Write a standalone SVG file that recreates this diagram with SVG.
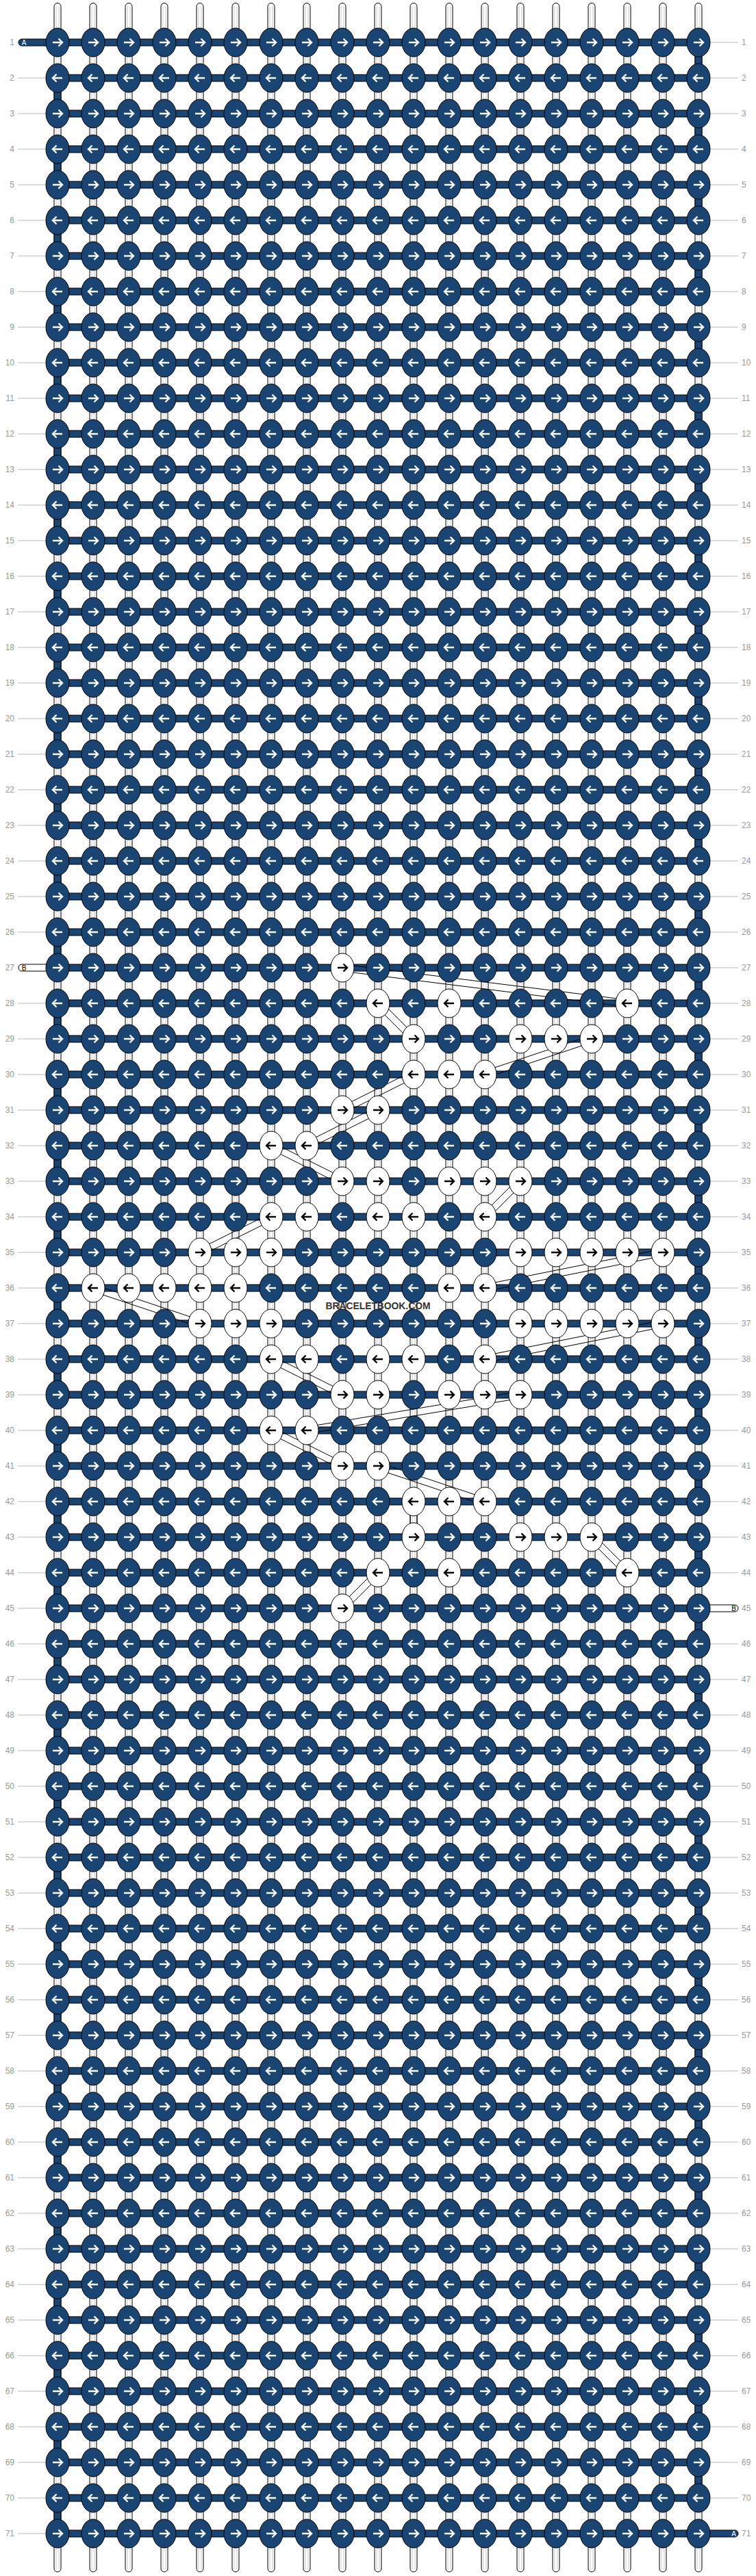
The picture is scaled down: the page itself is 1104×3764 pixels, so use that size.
<svg xmlns="http://www.w3.org/2000/svg" xmlns:xlink="http://www.w3.org/1999/xlink" width="1104" height="3764" viewBox="0 0 1104 3764">
<style>
.kb{fill:#1a4472;stroke:#000;stroke-width:1}
.kw{fill:#fff;stroke:#000;stroke-width:1}
.aw{fill:none;stroke:#fff;stroke-width:2.4}
.ab{fill:none;stroke:#000;stroke-width:2.4}
.tube{fill:#fff;stroke:#000;stroke-width:1}
.tin{fill:none;stroke:#c8c8c8;stroke-width:1}
.band{fill:#1a4472;stroke:#000;stroke-width:1}
.path{fill:none;stroke:#000;stroke-width:1}
.gl{fill:none;stroke:#bbb;stroke-width:1}
.num{font-family:"Liberation Sans",Arial,sans-serif;font-size:12px;fill:#999}
.ln{text-anchor:end}
.tag{font-family:"Liberation Sans",Arial,sans-serif;font-size:10px;text-anchor:middle}
</style>
<defs>
<g id="R"><ellipse rx="17" ry="21" class="kb"/><path d="M-7 0H6.5M1.5-5.5L7 0L1.5 5.5" class="aw"/></g>
<g id="L"><ellipse rx="17" ry="21" class="kb"/><path d="M7 0H-6.5M-1.5-5.5L-7 0L-1.5 5.5" class="aw"/></g>
<g id="r"><ellipse rx="17" ry="21" class="kw"/><path d="M-7 0H6.5M1.5-5.5L7 0L1.5 5.5" class="ab"/></g>
<g id="l"><ellipse rx="17" ry="21" class="kw"/><path d="M7 0H-6.5M-1.5-5.5L-7 0L-1.5 5.5" class="ab"/></g>
</defs>
<rect width="1104" height="3764" fill="#fff"/>
<g id="connectors">
<g id="strings">
<rect class="tube" x="79" y="4.5" width="10" height="3753.5" rx="5"/>
<rect class="tube" x="131" y="4.5" width="10" height="3753.5" rx="5"/>
<rect class="tube" x="183" y="4.5" width="10" height="3753.5" rx="5"/>
<rect class="tube" x="235" y="4.5" width="10" height="3753.5" rx="5"/>
<rect class="tube" x="287" y="4.5" width="10" height="3753.5" rx="5"/>
<rect class="tube" x="339" y="4.5" width="10" height="3753.5" rx="5"/>
<rect class="tube" x="391" y="4.5" width="10" height="3753.5" rx="5"/>
<rect class="tube" x="443" y="4.5" width="10" height="3753.5" rx="5"/>
<rect class="tube" x="495" y="4.5" width="10" height="3753.5" rx="5"/>
<rect class="tube" x="547" y="4.5" width="10" height="3753.5" rx="5"/>
<rect class="tube" x="599" y="4.5" width="10" height="3753.5" rx="5"/>
<rect class="tube" x="651" y="4.5" width="10" height="3753.5" rx="5"/>
<rect class="tube" x="703" y="4.5" width="10" height="3753.5" rx="5"/>
<rect class="tube" x="755" y="4.5" width="10" height="3753.5" rx="5"/>
<rect class="tube" x="807" y="4.5" width="10" height="3753.5" rx="5"/>
<rect class="tube" x="859" y="4.5" width="10" height="3753.5" rx="5"/>
<rect class="tube" x="911" y="4.5" width="10" height="3753.5" rx="5"/>
<rect class="tube" x="963" y="4.5" width="10" height="3753.5" rx="5"/>
<rect class="tube" x="1015" y="4.5" width="10" height="3753.5" rx="5"/>
<path class="tin" d="M82 9V3754M86 9V3754M134 9V3754M138 9V3754M186 9V3754M190 9V3754M238 9V3754M242 9V3754M290 9V3754M294 9V3754M342 9V3754M346 9V3754M394 9V3754M398 9V3754M446 9V3754M450 9V3754M498 9V3754M502 9V3754M550 9V3754M554 9V3754M602 9V3754M606 9V3754M654 9V3754M658 9V3754M706 9V3754M710 9V3754M758 9V3754M762 9V3754M810 9V3754M814 9V3754M862 9V3754M866 9V3754M914 9V3754M918 9V3754M966 9V3754M970 9V3754M1018 9V3754M1022 9V3754"/>
</g>
<g id="threadA">
<rect class="band" x="27" y="57" width="993" height="10" rx="5"/>
<rect class="band" x="84" y="3697" width="994" height="10" rx="5"/>
<path class="band" d="M84 109h936v10h-936zM84 161h936v10h-936zM84 213h936v10h-936zM84 265h936v10h-936zM84 317h936v10h-936zM84 369h936v10h-936zM84 421h936v10h-936zM84 473h936v10h-936zM84 525h936v10h-936zM84 577h936v10h-936zM84 629h936v10h-936zM84 681h936v10h-936zM84 733h936v10h-936zM84 785h936v10h-936zM84 837h936v10h-936zM84 889h936v10h-936zM84 941h936v10h-936zM84 993h936v10h-936zM84 1045h936v10h-936zM84 1097h936v10h-936zM84 1149h936v10h-936zM84 1201h936v10h-936zM84 1253h936v10h-936zM84 1305h936v10h-936zM84 1357h936v10h-936zM84 1409h936v10h-936zM84 1461h936v10h-936zM84 1513h936v10h-936zM84 1565h936v10h-936zM84 1617h936v10h-936zM84 1669h936v10h-936zM84 1721h936v10h-936zM84 1773h936v10h-936zM84 1825h936v10h-936zM84 1877h936v10h-936zM84 1929h936v10h-936zM84 1981h936v10h-936zM84 2033h936v10h-936zM84 2085h936v10h-936zM84 2137h936v10h-936zM84 2189h936v10h-936zM84 2241h936v10h-936zM84 2293h936v10h-936zM84 2345h936v10h-936zM84 2397h936v10h-936zM84 2449h936v10h-936zM84 2501h936v10h-936zM84 2553h936v10h-936zM84 2605h936v10h-936zM84 2657h936v10h-936zM84 2709h936v10h-936zM84 2761h936v10h-936zM84 2813h936v10h-936zM84 2865h936v10h-936zM84 2917h936v10h-936zM84 2969h936v10h-936zM84 3021h936v10h-936zM84 3073h936v10h-936zM84 3125h936v10h-936zM84 3177h936v10h-936zM84 3229h936v10h-936zM84 3281h936v10h-936zM84 3333h936v10h-936zM84 3385h936v10h-936zM84 3437h936v10h-936zM84 3489h936v10h-936zM84 3541h936v10h-936zM84 3593h936v10h-936zM84 3645h936v10h-936z"/>
<path class="band" d="M79 129h10v22h-10zM79 233h10v22h-10zM79 337h10v22h-10zM79 441h10v22h-10zM79 545h10v22h-10zM79 649h10v22h-10zM79 753h10v22h-10zM79 857h10v22h-10zM79 961h10v22h-10zM79 1065h10v22h-10zM79 1169h10v22h-10zM79 1273h10v22h-10zM79 1377h10v22h-10zM79 1481h10v22h-10zM79 1585h10v22h-10zM79 1689h10v22h-10zM79 1793h10v22h-10zM79 1897h10v22h-10zM79 2001h10v22h-10zM79 2105h10v22h-10zM79 2209h10v22h-10zM79 2313h10v22h-10zM79 2417h10v22h-10zM79 2521h10v22h-10zM79 2625h10v22h-10zM79 2729h10v22h-10zM79 2833h10v22h-10zM79 2937h10v22h-10zM79 3041h10v22h-10zM79 3145h10v22h-10zM79 3249h10v22h-10zM79 3353h10v22h-10zM79 3457h10v22h-10zM79 3561h10v22h-10zM79 3665h10v22h-10z"/>
<path class="band" d="M1015 77h10v22h-10zM1015 181h10v22h-10zM1015 285h10v22h-10zM1015 389h10v22h-10zM1015 493h10v22h-10zM1015 597h10v22h-10zM1015 701h10v22h-10zM1015 805h10v22h-10zM1015 909h10v22h-10zM1015 1013h10v22h-10zM1015 1117h10v22h-10zM1015 1221h10v22h-10zM1015 1325h10v22h-10zM1015 1429h10v22h-10zM1015 1533h10v22h-10zM1015 1637h10v22h-10zM1015 1741h10v22h-10zM1015 1845h10v22h-10zM1015 1949h10v22h-10zM1015 2053h10v22h-10zM1015 2157h10v22h-10zM1015 2261h10v22h-10zM1015 2365h10v22h-10zM1015 2469h10v22h-10zM1015 2573h10v22h-10zM1015 2677h10v22h-10zM1015 2781h10v22h-10zM1015 2885h10v22h-10zM1015 2989h10v22h-10zM1015 3093h10v22h-10zM1015 3197h10v22h-10zM1015 3301h10v22h-10zM1015 3405h10v22h-10zM1015 3509h10v22h-10zM1015 3613h10v22h-10z"/>
</g>
<g id="threadB">
<rect class="tube" x="27" y="1409" width="60" height="10" rx="5"/>
<rect class="tube" x="1017" y="2345" width="61" height="10" rx="5"/>
<path class="path" d="M499.4 1419L915.4 1471M500.6 1409L916.6 1461
M548.5 1469.5L600.5 1521.5M555.5 1462.5L607.5 1514.5
M862.4 1513.3L706.4 1565.3M865.6 1522.7L709.6 1574.7
M601.8 1565.5L497.8 1617.5M606.2 1574.5L502.2 1626.5
M549.8 1617.5L445.8 1669.5M554.2 1626.5L450.2 1678.5
M393.8 1678.5L497.8 1730.5M398.2 1669.5L502.2 1721.5
M756.5 1722.5L704.5 1774.5M763.5 1729.5L711.5 1781.5
M393.8 1773.5L289.8 1825.5M398.2 1782.5L294.2 1834.5
M967 1825.1L707 1877.1M969 1834.9L709 1886.9
M134.4 1886.7L290.4 1938.7M137.6 1877.3L293.6 1929.3
M967 1929.1L707 1981.1M969 1938.9L709 1990.9
M393.8 1990.5L497.8 2042.5M398.2 1981.5L502.2 2033.5
M759.2 2033.1L447.2 2085.1M760.8 2042.9L448.8 2094.9
M393.8 2094.5L497.8 2146.5M398.2 2085.5L502.2 2137.5
M550.4 2146.7L706.4 2198.7M553.6 2137.3L709.6 2189.3
M599 2194V2246M609 2194V2246
M860.5 2249.5L912.5 2301.5M867.5 2242.5L919.5 2294.5
M548.5 2294.5L496.5 2346.5M555.5 2301.5L503.5 2353.5"/>
</g>
</g>
<g id="nodes">
<g id="r1" transform="translate(0 62)"><g id="k1-1"><use href="#R" x="84"/></g><g id="k1-2"><use href="#R" x="136"/></g><g id="k1-3"><use href="#R" x="188"/></g><g id="k1-4"><use href="#R" x="240"/></g><g id="k1-5"><use href="#R" x="292"/></g><g id="k1-6"><use href="#R" x="344"/></g><g id="k1-7"><use href="#R" x="396"/></g><g id="k1-8"><use href="#R" x="448"/></g><g id="k1-9"><use href="#R" x="500"/></g><g id="k1-10"><use href="#R" x="552"/></g><g id="k1-11"><use href="#R" x="604"/></g><g id="k1-12"><use href="#R" x="656"/></g><g id="k1-13"><use href="#R" x="708"/></g><g id="k1-14"><use href="#R" x="760"/></g><g id="k1-15"><use href="#R" x="812"/></g><g id="k1-16"><use href="#R" x="864"/></g><g id="k1-17"><use href="#R" x="916"/></g><g id="k1-18"><use href="#R" x="968"/></g><g id="k1-19"><use href="#R" x="1020"/></g></g>
<g id="r2" transform="translate(0 114)"><g id="k2-1"><use href="#L" x="84"/></g><g id="k2-2"><use href="#L" x="136"/></g><g id="k2-3"><use href="#L" x="188"/></g><g id="k2-4"><use href="#L" x="240"/></g><g id="k2-5"><use href="#L" x="292"/></g><g id="k2-6"><use href="#L" x="344"/></g><g id="k2-7"><use href="#L" x="396"/></g><g id="k2-8"><use href="#L" x="448"/></g><g id="k2-9"><use href="#L" x="500"/></g><g id="k2-10"><use href="#L" x="552"/></g><g id="k2-11"><use href="#L" x="604"/></g><g id="k2-12"><use href="#L" x="656"/></g><g id="k2-13"><use href="#L" x="708"/></g><g id="k2-14"><use href="#L" x="760"/></g><g id="k2-15"><use href="#L" x="812"/></g><g id="k2-16"><use href="#L" x="864"/></g><g id="k2-17"><use href="#L" x="916"/></g><g id="k2-18"><use href="#L" x="968"/></g><g id="k2-19"><use href="#L" x="1020"/></g></g>
<g id="r3" transform="translate(0 166)"><g id="k3-1"><use href="#R" x="84"/></g><g id="k3-2"><use href="#R" x="136"/></g><g id="k3-3"><use href="#R" x="188"/></g><g id="k3-4"><use href="#R" x="240"/></g><g id="k3-5"><use href="#R" x="292"/></g><g id="k3-6"><use href="#R" x="344"/></g><g id="k3-7"><use href="#R" x="396"/></g><g id="k3-8"><use href="#R" x="448"/></g><g id="k3-9"><use href="#R" x="500"/></g><g id="k3-10"><use href="#R" x="552"/></g><g id="k3-11"><use href="#R" x="604"/></g><g id="k3-12"><use href="#R" x="656"/></g><g id="k3-13"><use href="#R" x="708"/></g><g id="k3-14"><use href="#R" x="760"/></g><g id="k3-15"><use href="#R" x="812"/></g><g id="k3-16"><use href="#R" x="864"/></g><g id="k3-17"><use href="#R" x="916"/></g><g id="k3-18"><use href="#R" x="968"/></g><g id="k3-19"><use href="#R" x="1020"/></g></g>
<g id="r4" transform="translate(0 218)"><g id="k4-1"><use href="#L" x="84"/></g><g id="k4-2"><use href="#L" x="136"/></g><g id="k4-3"><use href="#L" x="188"/></g><g id="k4-4"><use href="#L" x="240"/></g><g id="k4-5"><use href="#L" x="292"/></g><g id="k4-6"><use href="#L" x="344"/></g><g id="k4-7"><use href="#L" x="396"/></g><g id="k4-8"><use href="#L" x="448"/></g><g id="k4-9"><use href="#L" x="500"/></g><g id="k4-10"><use href="#L" x="552"/></g><g id="k4-11"><use href="#L" x="604"/></g><g id="k4-12"><use href="#L" x="656"/></g><g id="k4-13"><use href="#L" x="708"/></g><g id="k4-14"><use href="#L" x="760"/></g><g id="k4-15"><use href="#L" x="812"/></g><g id="k4-16"><use href="#L" x="864"/></g><g id="k4-17"><use href="#L" x="916"/></g><g id="k4-18"><use href="#L" x="968"/></g><g id="k4-19"><use href="#L" x="1020"/></g></g>
<g id="r5" transform="translate(0 270)"><g id="k5-1"><use href="#R" x="84"/></g><g id="k5-2"><use href="#R" x="136"/></g><g id="k5-3"><use href="#R" x="188"/></g><g id="k5-4"><use href="#R" x="240"/></g><g id="k5-5"><use href="#R" x="292"/></g><g id="k5-6"><use href="#R" x="344"/></g><g id="k5-7"><use href="#R" x="396"/></g><g id="k5-8"><use href="#R" x="448"/></g><g id="k5-9"><use href="#R" x="500"/></g><g id="k5-10"><use href="#R" x="552"/></g><g id="k5-11"><use href="#R" x="604"/></g><g id="k5-12"><use href="#R" x="656"/></g><g id="k5-13"><use href="#R" x="708"/></g><g id="k5-14"><use href="#R" x="760"/></g><g id="k5-15"><use href="#R" x="812"/></g><g id="k5-16"><use href="#R" x="864"/></g><g id="k5-17"><use href="#R" x="916"/></g><g id="k5-18"><use href="#R" x="968"/></g><g id="k5-19"><use href="#R" x="1020"/></g></g>
<g id="r6" transform="translate(0 322)"><g id="k6-1"><use href="#L" x="84"/></g><g id="k6-2"><use href="#L" x="136"/></g><g id="k6-3"><use href="#L" x="188"/></g><g id="k6-4"><use href="#L" x="240"/></g><g id="k6-5"><use href="#L" x="292"/></g><g id="k6-6"><use href="#L" x="344"/></g><g id="k6-7"><use href="#L" x="396"/></g><g id="k6-8"><use href="#L" x="448"/></g><g id="k6-9"><use href="#L" x="500"/></g><g id="k6-10"><use href="#L" x="552"/></g><g id="k6-11"><use href="#L" x="604"/></g><g id="k6-12"><use href="#L" x="656"/></g><g id="k6-13"><use href="#L" x="708"/></g><g id="k6-14"><use href="#L" x="760"/></g><g id="k6-15"><use href="#L" x="812"/></g><g id="k6-16"><use href="#L" x="864"/></g><g id="k6-17"><use href="#L" x="916"/></g><g id="k6-18"><use href="#L" x="968"/></g><g id="k6-19"><use href="#L" x="1020"/></g></g>
<g id="r7" transform="translate(0 374)"><g id="k7-1"><use href="#R" x="84"/></g><g id="k7-2"><use href="#R" x="136"/></g><g id="k7-3"><use href="#R" x="188"/></g><g id="k7-4"><use href="#R" x="240"/></g><g id="k7-5"><use href="#R" x="292"/></g><g id="k7-6"><use href="#R" x="344"/></g><g id="k7-7"><use href="#R" x="396"/></g><g id="k7-8"><use href="#R" x="448"/></g><g id="k7-9"><use href="#R" x="500"/></g><g id="k7-10"><use href="#R" x="552"/></g><g id="k7-11"><use href="#R" x="604"/></g><g id="k7-12"><use href="#R" x="656"/></g><g id="k7-13"><use href="#R" x="708"/></g><g id="k7-14"><use href="#R" x="760"/></g><g id="k7-15"><use href="#R" x="812"/></g><g id="k7-16"><use href="#R" x="864"/></g><g id="k7-17"><use href="#R" x="916"/></g><g id="k7-18"><use href="#R" x="968"/></g><g id="k7-19"><use href="#R" x="1020"/></g></g>
<g id="r8" transform="translate(0 426)"><g id="k8-1"><use href="#L" x="84"/></g><g id="k8-2"><use href="#L" x="136"/></g><g id="k8-3"><use href="#L" x="188"/></g><g id="k8-4"><use href="#L" x="240"/></g><g id="k8-5"><use href="#L" x="292"/></g><g id="k8-6"><use href="#L" x="344"/></g><g id="k8-7"><use href="#L" x="396"/></g><g id="k8-8"><use href="#L" x="448"/></g><g id="k8-9"><use href="#L" x="500"/></g><g id="k8-10"><use href="#L" x="552"/></g><g id="k8-11"><use href="#L" x="604"/></g><g id="k8-12"><use href="#L" x="656"/></g><g id="k8-13"><use href="#L" x="708"/></g><g id="k8-14"><use href="#L" x="760"/></g><g id="k8-15"><use href="#L" x="812"/></g><g id="k8-16"><use href="#L" x="864"/></g><g id="k8-17"><use href="#L" x="916"/></g><g id="k8-18"><use href="#L" x="968"/></g><g id="k8-19"><use href="#L" x="1020"/></g></g>
<g id="r9" transform="translate(0 478)"><g id="k9-1"><use href="#R" x="84"/></g><g id="k9-2"><use href="#R" x="136"/></g><g id="k9-3"><use href="#R" x="188"/></g><g id="k9-4"><use href="#R" x="240"/></g><g id="k9-5"><use href="#R" x="292"/></g><g id="k9-6"><use href="#R" x="344"/></g><g id="k9-7"><use href="#R" x="396"/></g><g id="k9-8"><use href="#R" x="448"/></g><g id="k9-9"><use href="#R" x="500"/></g><g id="k9-10"><use href="#R" x="552"/></g><g id="k9-11"><use href="#R" x="604"/></g><g id="k9-12"><use href="#R" x="656"/></g><g id="k9-13"><use href="#R" x="708"/></g><g id="k9-14"><use href="#R" x="760"/></g><g id="k9-15"><use href="#R" x="812"/></g><g id="k9-16"><use href="#R" x="864"/></g><g id="k9-17"><use href="#R" x="916"/></g><g id="k9-18"><use href="#R" x="968"/></g><g id="k9-19"><use href="#R" x="1020"/></g></g>
<g id="r10" transform="translate(0 530)"><g id="k10-1"><use href="#L" x="84"/></g><g id="k10-2"><use href="#L" x="136"/></g><g id="k10-3"><use href="#L" x="188"/></g><g id="k10-4"><use href="#L" x="240"/></g><g id="k10-5"><use href="#L" x="292"/></g><g id="k10-6"><use href="#L" x="344"/></g><g id="k10-7"><use href="#L" x="396"/></g><g id="k10-8"><use href="#L" x="448"/></g><g id="k10-9"><use href="#L" x="500"/></g><g id="k10-10"><use href="#L" x="552"/></g><g id="k10-11"><use href="#L" x="604"/></g><g id="k10-12"><use href="#L" x="656"/></g><g id="k10-13"><use href="#L" x="708"/></g><g id="k10-14"><use href="#L" x="760"/></g><g id="k10-15"><use href="#L" x="812"/></g><g id="k10-16"><use href="#L" x="864"/></g><g id="k10-17"><use href="#L" x="916"/></g><g id="k10-18"><use href="#L" x="968"/></g><g id="k10-19"><use href="#L" x="1020"/></g></g>
<g id="r11" transform="translate(0 582)"><g id="k11-1"><use href="#R" x="84"/></g><g id="k11-2"><use href="#R" x="136"/></g><g id="k11-3"><use href="#R" x="188"/></g><g id="k11-4"><use href="#R" x="240"/></g><g id="k11-5"><use href="#R" x="292"/></g><g id="k11-6"><use href="#R" x="344"/></g><g id="k11-7"><use href="#R" x="396"/></g><g id="k11-8"><use href="#R" x="448"/></g><g id="k11-9"><use href="#R" x="500"/></g><g id="k11-10"><use href="#R" x="552"/></g><g id="k11-11"><use href="#R" x="604"/></g><g id="k11-12"><use href="#R" x="656"/></g><g id="k11-13"><use href="#R" x="708"/></g><g id="k11-14"><use href="#R" x="760"/></g><g id="k11-15"><use href="#R" x="812"/></g><g id="k11-16"><use href="#R" x="864"/></g><g id="k11-17"><use href="#R" x="916"/></g><g id="k11-18"><use href="#R" x="968"/></g><g id="k11-19"><use href="#R" x="1020"/></g></g>
<g id="r12" transform="translate(0 634)"><g id="k12-1"><use href="#L" x="84"/></g><g id="k12-2"><use href="#L" x="136"/></g><g id="k12-3"><use href="#L" x="188"/></g><g id="k12-4"><use href="#L" x="240"/></g><g id="k12-5"><use href="#L" x="292"/></g><g id="k12-6"><use href="#L" x="344"/></g><g id="k12-7"><use href="#L" x="396"/></g><g id="k12-8"><use href="#L" x="448"/></g><g id="k12-9"><use href="#L" x="500"/></g><g id="k12-10"><use href="#L" x="552"/></g><g id="k12-11"><use href="#L" x="604"/></g><g id="k12-12"><use href="#L" x="656"/></g><g id="k12-13"><use href="#L" x="708"/></g><g id="k12-14"><use href="#L" x="760"/></g><g id="k12-15"><use href="#L" x="812"/></g><g id="k12-16"><use href="#L" x="864"/></g><g id="k12-17"><use href="#L" x="916"/></g><g id="k12-18"><use href="#L" x="968"/></g><g id="k12-19"><use href="#L" x="1020"/></g></g>
<g id="r13" transform="translate(0 686)"><g id="k13-1"><use href="#R" x="84"/></g><g id="k13-2"><use href="#R" x="136"/></g><g id="k13-3"><use href="#R" x="188"/></g><g id="k13-4"><use href="#R" x="240"/></g><g id="k13-5"><use href="#R" x="292"/></g><g id="k13-6"><use href="#R" x="344"/></g><g id="k13-7"><use href="#R" x="396"/></g><g id="k13-8"><use href="#R" x="448"/></g><g id="k13-9"><use href="#R" x="500"/></g><g id="k13-10"><use href="#R" x="552"/></g><g id="k13-11"><use href="#R" x="604"/></g><g id="k13-12"><use href="#R" x="656"/></g><g id="k13-13"><use href="#R" x="708"/></g><g id="k13-14"><use href="#R" x="760"/></g><g id="k13-15"><use href="#R" x="812"/></g><g id="k13-16"><use href="#R" x="864"/></g><g id="k13-17"><use href="#R" x="916"/></g><g id="k13-18"><use href="#R" x="968"/></g><g id="k13-19"><use href="#R" x="1020"/></g></g>
<g id="r14" transform="translate(0 738)"><g id="k14-1"><use href="#L" x="84"/></g><g id="k14-2"><use href="#L" x="136"/></g><g id="k14-3"><use href="#L" x="188"/></g><g id="k14-4"><use href="#L" x="240"/></g><g id="k14-5"><use href="#L" x="292"/></g><g id="k14-6"><use href="#L" x="344"/></g><g id="k14-7"><use href="#L" x="396"/></g><g id="k14-8"><use href="#L" x="448"/></g><g id="k14-9"><use href="#L" x="500"/></g><g id="k14-10"><use href="#L" x="552"/></g><g id="k14-11"><use href="#L" x="604"/></g><g id="k14-12"><use href="#L" x="656"/></g><g id="k14-13"><use href="#L" x="708"/></g><g id="k14-14"><use href="#L" x="760"/></g><g id="k14-15"><use href="#L" x="812"/></g><g id="k14-16"><use href="#L" x="864"/></g><g id="k14-17"><use href="#L" x="916"/></g><g id="k14-18"><use href="#L" x="968"/></g><g id="k14-19"><use href="#L" x="1020"/></g></g>
<g id="r15" transform="translate(0 790)"><g id="k15-1"><use href="#R" x="84"/></g><g id="k15-2"><use href="#R" x="136"/></g><g id="k15-3"><use href="#R" x="188"/></g><g id="k15-4"><use href="#R" x="240"/></g><g id="k15-5"><use href="#R" x="292"/></g><g id="k15-6"><use href="#R" x="344"/></g><g id="k15-7"><use href="#R" x="396"/></g><g id="k15-8"><use href="#R" x="448"/></g><g id="k15-9"><use href="#R" x="500"/></g><g id="k15-10"><use href="#R" x="552"/></g><g id="k15-11"><use href="#R" x="604"/></g><g id="k15-12"><use href="#R" x="656"/></g><g id="k15-13"><use href="#R" x="708"/></g><g id="k15-14"><use href="#R" x="760"/></g><g id="k15-15"><use href="#R" x="812"/></g><g id="k15-16"><use href="#R" x="864"/></g><g id="k15-17"><use href="#R" x="916"/></g><g id="k15-18"><use href="#R" x="968"/></g><g id="k15-19"><use href="#R" x="1020"/></g></g>
<g id="r16" transform="translate(0 842)"><g id="k16-1"><use href="#L" x="84"/></g><g id="k16-2"><use href="#L" x="136"/></g><g id="k16-3"><use href="#L" x="188"/></g><g id="k16-4"><use href="#L" x="240"/></g><g id="k16-5"><use href="#L" x="292"/></g><g id="k16-6"><use href="#L" x="344"/></g><g id="k16-7"><use href="#L" x="396"/></g><g id="k16-8"><use href="#L" x="448"/></g><g id="k16-9"><use href="#L" x="500"/></g><g id="k16-10"><use href="#L" x="552"/></g><g id="k16-11"><use href="#L" x="604"/></g><g id="k16-12"><use href="#L" x="656"/></g><g id="k16-13"><use href="#L" x="708"/></g><g id="k16-14"><use href="#L" x="760"/></g><g id="k16-15"><use href="#L" x="812"/></g><g id="k16-16"><use href="#L" x="864"/></g><g id="k16-17"><use href="#L" x="916"/></g><g id="k16-18"><use href="#L" x="968"/></g><g id="k16-19"><use href="#L" x="1020"/></g></g>
<g id="r17" transform="translate(0 894)"><g id="k17-1"><use href="#R" x="84"/></g><g id="k17-2"><use href="#R" x="136"/></g><g id="k17-3"><use href="#R" x="188"/></g><g id="k17-4"><use href="#R" x="240"/></g><g id="k17-5"><use href="#R" x="292"/></g><g id="k17-6"><use href="#R" x="344"/></g><g id="k17-7"><use href="#R" x="396"/></g><g id="k17-8"><use href="#R" x="448"/></g><g id="k17-9"><use href="#R" x="500"/></g><g id="k17-10"><use href="#R" x="552"/></g><g id="k17-11"><use href="#R" x="604"/></g><g id="k17-12"><use href="#R" x="656"/></g><g id="k17-13"><use href="#R" x="708"/></g><g id="k17-14"><use href="#R" x="760"/></g><g id="k17-15"><use href="#R" x="812"/></g><g id="k17-16"><use href="#R" x="864"/></g><g id="k17-17"><use href="#R" x="916"/></g><g id="k17-18"><use href="#R" x="968"/></g><g id="k17-19"><use href="#R" x="1020"/></g></g>
<g id="r18" transform="translate(0 946)"><g id="k18-1"><use href="#L" x="84"/></g><g id="k18-2"><use href="#L" x="136"/></g><g id="k18-3"><use href="#L" x="188"/></g><g id="k18-4"><use href="#L" x="240"/></g><g id="k18-5"><use href="#L" x="292"/></g><g id="k18-6"><use href="#L" x="344"/></g><g id="k18-7"><use href="#L" x="396"/></g><g id="k18-8"><use href="#L" x="448"/></g><g id="k18-9"><use href="#L" x="500"/></g><g id="k18-10"><use href="#L" x="552"/></g><g id="k18-11"><use href="#L" x="604"/></g><g id="k18-12"><use href="#L" x="656"/></g><g id="k18-13"><use href="#L" x="708"/></g><g id="k18-14"><use href="#L" x="760"/></g><g id="k18-15"><use href="#L" x="812"/></g><g id="k18-16"><use href="#L" x="864"/></g><g id="k18-17"><use href="#L" x="916"/></g><g id="k18-18"><use href="#L" x="968"/></g><g id="k18-19"><use href="#L" x="1020"/></g></g>
<g id="r19" transform="translate(0 998)"><g id="k19-1"><use href="#R" x="84"/></g><g id="k19-2"><use href="#R" x="136"/></g><g id="k19-3"><use href="#R" x="188"/></g><g id="k19-4"><use href="#R" x="240"/></g><g id="k19-5"><use href="#R" x="292"/></g><g id="k19-6"><use href="#R" x="344"/></g><g id="k19-7"><use href="#R" x="396"/></g><g id="k19-8"><use href="#R" x="448"/></g><g id="k19-9"><use href="#R" x="500"/></g><g id="k19-10"><use href="#R" x="552"/></g><g id="k19-11"><use href="#R" x="604"/></g><g id="k19-12"><use href="#R" x="656"/></g><g id="k19-13"><use href="#R" x="708"/></g><g id="k19-14"><use href="#R" x="760"/></g><g id="k19-15"><use href="#R" x="812"/></g><g id="k19-16"><use href="#R" x="864"/></g><g id="k19-17"><use href="#R" x="916"/></g><g id="k19-18"><use href="#R" x="968"/></g><g id="k19-19"><use href="#R" x="1020"/></g></g>
<g id="r20" transform="translate(0 1050)"><g id="k20-1"><use href="#L" x="84"/></g><g id="k20-2"><use href="#L" x="136"/></g><g id="k20-3"><use href="#L" x="188"/></g><g id="k20-4"><use href="#L" x="240"/></g><g id="k20-5"><use href="#L" x="292"/></g><g id="k20-6"><use href="#L" x="344"/></g><g id="k20-7"><use href="#L" x="396"/></g><g id="k20-8"><use href="#L" x="448"/></g><g id="k20-9"><use href="#L" x="500"/></g><g id="k20-10"><use href="#L" x="552"/></g><g id="k20-11"><use href="#L" x="604"/></g><g id="k20-12"><use href="#L" x="656"/></g><g id="k20-13"><use href="#L" x="708"/></g><g id="k20-14"><use href="#L" x="760"/></g><g id="k20-15"><use href="#L" x="812"/></g><g id="k20-16"><use href="#L" x="864"/></g><g id="k20-17"><use href="#L" x="916"/></g><g id="k20-18"><use href="#L" x="968"/></g><g id="k20-19"><use href="#L" x="1020"/></g></g>
<g id="r21" transform="translate(0 1102)"><g id="k21-1"><use href="#R" x="84"/></g><g id="k21-2"><use href="#R" x="136"/></g><g id="k21-3"><use href="#R" x="188"/></g><g id="k21-4"><use href="#R" x="240"/></g><g id="k21-5"><use href="#R" x="292"/></g><g id="k21-6"><use href="#R" x="344"/></g><g id="k21-7"><use href="#R" x="396"/></g><g id="k21-8"><use href="#R" x="448"/></g><g id="k21-9"><use href="#R" x="500"/></g><g id="k21-10"><use href="#R" x="552"/></g><g id="k21-11"><use href="#R" x="604"/></g><g id="k21-12"><use href="#R" x="656"/></g><g id="k21-13"><use href="#R" x="708"/></g><g id="k21-14"><use href="#R" x="760"/></g><g id="k21-15"><use href="#R" x="812"/></g><g id="k21-16"><use href="#R" x="864"/></g><g id="k21-17"><use href="#R" x="916"/></g><g id="k21-18"><use href="#R" x="968"/></g><g id="k21-19"><use href="#R" x="1020"/></g></g>
<g id="r22" transform="translate(0 1154)"><g id="k22-1"><use href="#L" x="84"/></g><g id="k22-2"><use href="#L" x="136"/></g><g id="k22-3"><use href="#L" x="188"/></g><g id="k22-4"><use href="#L" x="240"/></g><g id="k22-5"><use href="#L" x="292"/></g><g id="k22-6"><use href="#L" x="344"/></g><g id="k22-7"><use href="#L" x="396"/></g><g id="k22-8"><use href="#L" x="448"/></g><g id="k22-9"><use href="#L" x="500"/></g><g id="k22-10"><use href="#L" x="552"/></g><g id="k22-11"><use href="#L" x="604"/></g><g id="k22-12"><use href="#L" x="656"/></g><g id="k22-13"><use href="#L" x="708"/></g><g id="k22-14"><use href="#L" x="760"/></g><g id="k22-15"><use href="#L" x="812"/></g><g id="k22-16"><use href="#L" x="864"/></g><g id="k22-17"><use href="#L" x="916"/></g><g id="k22-18"><use href="#L" x="968"/></g><g id="k22-19"><use href="#L" x="1020"/></g></g>
<g id="r23" transform="translate(0 1206)"><g id="k23-1"><use href="#R" x="84"/></g><g id="k23-2"><use href="#R" x="136"/></g><g id="k23-3"><use href="#R" x="188"/></g><g id="k23-4"><use href="#R" x="240"/></g><g id="k23-5"><use href="#R" x="292"/></g><g id="k23-6"><use href="#R" x="344"/></g><g id="k23-7"><use href="#R" x="396"/></g><g id="k23-8"><use href="#R" x="448"/></g><g id="k23-9"><use href="#R" x="500"/></g><g id="k23-10"><use href="#R" x="552"/></g><g id="k23-11"><use href="#R" x="604"/></g><g id="k23-12"><use href="#R" x="656"/></g><g id="k23-13"><use href="#R" x="708"/></g><g id="k23-14"><use href="#R" x="760"/></g><g id="k23-15"><use href="#R" x="812"/></g><g id="k23-16"><use href="#R" x="864"/></g><g id="k23-17"><use href="#R" x="916"/></g><g id="k23-18"><use href="#R" x="968"/></g><g id="k23-19"><use href="#R" x="1020"/></g></g>
<g id="r24" transform="translate(0 1258)"><g id="k24-1"><use href="#L" x="84"/></g><g id="k24-2"><use href="#L" x="136"/></g><g id="k24-3"><use href="#L" x="188"/></g><g id="k24-4"><use href="#L" x="240"/></g><g id="k24-5"><use href="#L" x="292"/></g><g id="k24-6"><use href="#L" x="344"/></g><g id="k24-7"><use href="#L" x="396"/></g><g id="k24-8"><use href="#L" x="448"/></g><g id="k24-9"><use href="#L" x="500"/></g><g id="k24-10"><use href="#L" x="552"/></g><g id="k24-11"><use href="#L" x="604"/></g><g id="k24-12"><use href="#L" x="656"/></g><g id="k24-13"><use href="#L" x="708"/></g><g id="k24-14"><use href="#L" x="760"/></g><g id="k24-15"><use href="#L" x="812"/></g><g id="k24-16"><use href="#L" x="864"/></g><g id="k24-17"><use href="#L" x="916"/></g><g id="k24-18"><use href="#L" x="968"/></g><g id="k24-19"><use href="#L" x="1020"/></g></g>
<g id="r25" transform="translate(0 1310)"><g id="k25-1"><use href="#R" x="84"/></g><g id="k25-2"><use href="#R" x="136"/></g><g id="k25-3"><use href="#R" x="188"/></g><g id="k25-4"><use href="#R" x="240"/></g><g id="k25-5"><use href="#R" x="292"/></g><g id="k25-6"><use href="#R" x="344"/></g><g id="k25-7"><use href="#R" x="396"/></g><g id="k25-8"><use href="#R" x="448"/></g><g id="k25-9"><use href="#R" x="500"/></g><g id="k25-10"><use href="#R" x="552"/></g><g id="k25-11"><use href="#R" x="604"/></g><g id="k25-12"><use href="#R" x="656"/></g><g id="k25-13"><use href="#R" x="708"/></g><g id="k25-14"><use href="#R" x="760"/></g><g id="k25-15"><use href="#R" x="812"/></g><g id="k25-16"><use href="#R" x="864"/></g><g id="k25-17"><use href="#R" x="916"/></g><g id="k25-18"><use href="#R" x="968"/></g><g id="k25-19"><use href="#R" x="1020"/></g></g>
<g id="r26" transform="translate(0 1362)"><g id="k26-1"><use href="#L" x="84"/></g><g id="k26-2"><use href="#L" x="136"/></g><g id="k26-3"><use href="#L" x="188"/></g><g id="k26-4"><use href="#L" x="240"/></g><g id="k26-5"><use href="#L" x="292"/></g><g id="k26-6"><use href="#L" x="344"/></g><g id="k26-7"><use href="#L" x="396"/></g><g id="k26-8"><use href="#L" x="448"/></g><g id="k26-9"><use href="#L" x="500"/></g><g id="k26-10"><use href="#L" x="552"/></g><g id="k26-11"><use href="#L" x="604"/></g><g id="k26-12"><use href="#L" x="656"/></g><g id="k26-13"><use href="#L" x="708"/></g><g id="k26-14"><use href="#L" x="760"/></g><g id="k26-15"><use href="#L" x="812"/></g><g id="k26-16"><use href="#L" x="864"/></g><g id="k26-17"><use href="#L" x="916"/></g><g id="k26-18"><use href="#L" x="968"/></g><g id="k26-19"><use href="#L" x="1020"/></g></g>
<g id="r27" transform="translate(0 1414)"><g id="k27-1"><use href="#R" x="84"/></g><g id="k27-2"><use href="#R" x="136"/></g><g id="k27-3"><use href="#R" x="188"/></g><g id="k27-4"><use href="#R" x="240"/></g><g id="k27-5"><use href="#R" x="292"/></g><g id="k27-6"><use href="#R" x="344"/></g><g id="k27-7"><use href="#R" x="396"/></g><g id="k27-8"><use href="#R" x="448"/></g><g id="k27-9"><use href="#r" x="500"/></g><g id="k27-10"><use href="#R" x="552"/></g><g id="k27-11"><use href="#R" x="604"/></g><g id="k27-12"><use href="#R" x="656"/></g><g id="k27-13"><use href="#R" x="708"/></g><g id="k27-14"><use href="#R" x="760"/></g><g id="k27-15"><use href="#R" x="812"/></g><g id="k27-16"><use href="#R" x="864"/></g><g id="k27-17"><use href="#R" x="916"/></g><g id="k27-18"><use href="#R" x="968"/></g><g id="k27-19"><use href="#R" x="1020"/></g></g>
<g id="r28" transform="translate(0 1466)"><g id="k28-1"><use href="#L" x="84"/></g><g id="k28-2"><use href="#L" x="136"/></g><g id="k28-3"><use href="#L" x="188"/></g><g id="k28-4"><use href="#L" x="240"/></g><g id="k28-5"><use href="#L" x="292"/></g><g id="k28-6"><use href="#L" x="344"/></g><g id="k28-7"><use href="#L" x="396"/></g><g id="k28-8"><use href="#L" x="448"/></g><g id="k28-9"><use href="#L" x="500"/></g><g id="k28-10"><use href="#l" x="552"/></g><g id="k28-11"><use href="#L" x="604"/></g><g id="k28-12"><use href="#l" x="656"/></g><g id="k28-13"><use href="#L" x="708"/></g><g id="k28-14"><use href="#L" x="760"/></g><g id="k28-15"><use href="#L" x="812"/></g><g id="k28-16"><use href="#L" x="864"/></g><g id="k28-17"><use href="#l" x="916"/></g><g id="k28-18"><use href="#L" x="968"/></g><g id="k28-19"><use href="#L" x="1020"/></g></g>
<g id="r29" transform="translate(0 1518)"><g id="k29-1"><use href="#R" x="84"/></g><g id="k29-2"><use href="#R" x="136"/></g><g id="k29-3"><use href="#R" x="188"/></g><g id="k29-4"><use href="#R" x="240"/></g><g id="k29-5"><use href="#R" x="292"/></g><g id="k29-6"><use href="#R" x="344"/></g><g id="k29-7"><use href="#R" x="396"/></g><g id="k29-8"><use href="#R" x="448"/></g><g id="k29-9"><use href="#R" x="500"/></g><g id="k29-10"><use href="#R" x="552"/></g><g id="k29-11"><use href="#r" x="604"/></g><g id="k29-12"><use href="#R" x="656"/></g><g id="k29-13"><use href="#R" x="708"/></g><g id="k29-14"><use href="#r" x="760"/></g><g id="k29-15"><use href="#r" x="812"/></g><g id="k29-16"><use href="#r" x="864"/></g><g id="k29-17"><use href="#R" x="916"/></g><g id="k29-18"><use href="#R" x="968"/></g><g id="k29-19"><use href="#R" x="1020"/></g></g>
<g id="r30" transform="translate(0 1570)"><g id="k30-1"><use href="#L" x="84"/></g><g id="k30-2"><use href="#L" x="136"/></g><g id="k30-3"><use href="#L" x="188"/></g><g id="k30-4"><use href="#L" x="240"/></g><g id="k30-5"><use href="#L" x="292"/></g><g id="k30-6"><use href="#L" x="344"/></g><g id="k30-7"><use href="#L" x="396"/></g><g id="k30-8"><use href="#L" x="448"/></g><g id="k30-9"><use href="#L" x="500"/></g><g id="k30-10"><use href="#L" x="552"/></g><g id="k30-11"><use href="#l" x="604"/></g><g id="k30-12"><use href="#l" x="656"/></g><g id="k30-13"><use href="#l" x="708"/></g><g id="k30-14"><use href="#L" x="760"/></g><g id="k30-15"><use href="#L" x="812"/></g><g id="k30-16"><use href="#L" x="864"/></g><g id="k30-17"><use href="#L" x="916"/></g><g id="k30-18"><use href="#L" x="968"/></g><g id="k30-19"><use href="#L" x="1020"/></g></g>
<g id="r31" transform="translate(0 1622)"><g id="k31-1"><use href="#R" x="84"/></g><g id="k31-2"><use href="#R" x="136"/></g><g id="k31-3"><use href="#R" x="188"/></g><g id="k31-4"><use href="#R" x="240"/></g><g id="k31-5"><use href="#R" x="292"/></g><g id="k31-6"><use href="#R" x="344"/></g><g id="k31-7"><use href="#R" x="396"/></g><g id="k31-8"><use href="#R" x="448"/></g><g id="k31-9"><use href="#r" x="500"/></g><g id="k31-10"><use href="#r" x="552"/></g><g id="k31-11"><use href="#R" x="604"/></g><g id="k31-12"><use href="#R" x="656"/></g><g id="k31-13"><use href="#R" x="708"/></g><g id="k31-14"><use href="#R" x="760"/></g><g id="k31-15"><use href="#R" x="812"/></g><g id="k31-16"><use href="#R" x="864"/></g><g id="k31-17"><use href="#R" x="916"/></g><g id="k31-18"><use href="#R" x="968"/></g><g id="k31-19"><use href="#R" x="1020"/></g></g>
<g id="r32" transform="translate(0 1674)"><g id="k32-1"><use href="#L" x="84"/></g><g id="k32-2"><use href="#L" x="136"/></g><g id="k32-3"><use href="#L" x="188"/></g><g id="k32-4"><use href="#L" x="240"/></g><g id="k32-5"><use href="#L" x="292"/></g><g id="k32-6"><use href="#L" x="344"/></g><g id="k32-7"><use href="#l" x="396"/></g><g id="k32-8"><use href="#l" x="448"/></g><g id="k32-9"><use href="#L" x="500"/></g><g id="k32-10"><use href="#L" x="552"/></g><g id="k32-11"><use href="#L" x="604"/></g><g id="k32-12"><use href="#L" x="656"/></g><g id="k32-13"><use href="#L" x="708"/></g><g id="k32-14"><use href="#L" x="760"/></g><g id="k32-15"><use href="#L" x="812"/></g><g id="k32-16"><use href="#L" x="864"/></g><g id="k32-17"><use href="#L" x="916"/></g><g id="k32-18"><use href="#L" x="968"/></g><g id="k32-19"><use href="#L" x="1020"/></g></g>
<g id="r33" transform="translate(0 1726)"><g id="k33-1"><use href="#R" x="84"/></g><g id="k33-2"><use href="#R" x="136"/></g><g id="k33-3"><use href="#R" x="188"/></g><g id="k33-4"><use href="#R" x="240"/></g><g id="k33-5"><use href="#R" x="292"/></g><g id="k33-6"><use href="#R" x="344"/></g><g id="k33-7"><use href="#R" x="396"/></g><g id="k33-8"><use href="#R" x="448"/></g><g id="k33-9"><use href="#r" x="500"/></g><g id="k33-10"><use href="#r" x="552"/></g><g id="k33-11"><use href="#R" x="604"/></g><g id="k33-12"><use href="#r" x="656"/></g><g id="k33-13"><use href="#r" x="708"/></g><g id="k33-14"><use href="#r" x="760"/></g><g id="k33-15"><use href="#R" x="812"/></g><g id="k33-16"><use href="#R" x="864"/></g><g id="k33-17"><use href="#R" x="916"/></g><g id="k33-18"><use href="#R" x="968"/></g><g id="k33-19"><use href="#R" x="1020"/></g></g>
<g id="r34" transform="translate(0 1778)"><g id="k34-1"><use href="#L" x="84"/></g><g id="k34-2"><use href="#L" x="136"/></g><g id="k34-3"><use href="#L" x="188"/></g><g id="k34-4"><use href="#L" x="240"/></g><g id="k34-5"><use href="#L" x="292"/></g><g id="k34-6"><use href="#L" x="344"/></g><g id="k34-7"><use href="#l" x="396"/></g><g id="k34-8"><use href="#l" x="448"/></g><g id="k34-9"><use href="#L" x="500"/></g><g id="k34-10"><use href="#l" x="552"/></g><g id="k34-11"><use href="#l" x="604"/></g><g id="k34-12"><use href="#L" x="656"/></g><g id="k34-13"><use href="#l" x="708"/></g><g id="k34-14"><use href="#L" x="760"/></g><g id="k34-15"><use href="#L" x="812"/></g><g id="k34-16"><use href="#L" x="864"/></g><g id="k34-17"><use href="#L" x="916"/></g><g id="k34-18"><use href="#L" x="968"/></g><g id="k34-19"><use href="#L" x="1020"/></g></g>
<g id="r35" transform="translate(0 1830)"><g id="k35-1"><use href="#R" x="84"/></g><g id="k35-2"><use href="#R" x="136"/></g><g id="k35-3"><use href="#R" x="188"/></g><g id="k35-4"><use href="#R" x="240"/></g><g id="k35-5"><use href="#r" x="292"/></g><g id="k35-6"><use href="#r" x="344"/></g><g id="k35-7"><use href="#r" x="396"/></g><g id="k35-8"><use href="#R" x="448"/></g><g id="k35-9"><use href="#R" x="500"/></g><g id="k35-10"><use href="#R" x="552"/></g><g id="k35-11"><use href="#R" x="604"/></g><g id="k35-12"><use href="#R" x="656"/></g><g id="k35-13"><use href="#R" x="708"/></g><g id="k35-14"><use href="#r" x="760"/></g><g id="k35-15"><use href="#r" x="812"/></g><g id="k35-16"><use href="#r" x="864"/></g><g id="k35-17"><use href="#r" x="916"/></g><g id="k35-18"><use href="#r" x="968"/></g><g id="k35-19"><use href="#R" x="1020"/></g></g>
<g id="r36" transform="translate(0 1882)"><g id="k36-1"><use href="#L" x="84"/></g><g id="k36-2"><use href="#l" x="136"/></g><g id="k36-3"><use href="#l" x="188"/></g><g id="k36-4"><use href="#l" x="240"/></g><g id="k36-5"><use href="#l" x="292"/></g><g id="k36-6"><use href="#l" x="344"/></g><g id="k36-7"><use href="#L" x="396"/></g><g id="k36-8"><use href="#L" x="448"/></g><g id="k36-9"><use href="#L" x="500"/></g><g id="k36-10"><use href="#L" x="552"/></g><g id="k36-11"><use href="#L" x="604"/></g><g id="k36-12"><use href="#l" x="656"/></g><g id="k36-13"><use href="#l" x="708"/></g><g id="k36-14"><use href="#L" x="760"/></g><g id="k36-15"><use href="#L" x="812"/></g><g id="k36-16"><use href="#L" x="864"/></g><g id="k36-17"><use href="#L" x="916"/></g><g id="k36-18"><use href="#L" x="968"/></g><g id="k36-19"><use href="#L" x="1020"/></g></g>
<g id="r37" transform="translate(0 1934)"><g id="k37-1"><use href="#R" x="84"/></g><g id="k37-2"><use href="#R" x="136"/></g><g id="k37-3"><use href="#R" x="188"/></g><g id="k37-4"><use href="#R" x="240"/></g><g id="k37-5"><use href="#r" x="292"/></g><g id="k37-6"><use href="#r" x="344"/></g><g id="k37-7"><use href="#r" x="396"/></g><g id="k37-8"><use href="#R" x="448"/></g><g id="k37-9"><use href="#R" x="500"/></g><g id="k37-10"><use href="#R" x="552"/></g><g id="k37-11"><use href="#R" x="604"/></g><g id="k37-12"><use href="#R" x="656"/></g><g id="k37-13"><use href="#R" x="708"/></g><g id="k37-14"><use href="#r" x="760"/></g><g id="k37-15"><use href="#r" x="812"/></g><g id="k37-16"><use href="#r" x="864"/></g><g id="k37-17"><use href="#r" x="916"/></g><g id="k37-18"><use href="#r" x="968"/></g><g id="k37-19"><use href="#R" x="1020"/></g></g>
<g id="r38" transform="translate(0 1986)"><g id="k38-1"><use href="#L" x="84"/></g><g id="k38-2"><use href="#L" x="136"/></g><g id="k38-3"><use href="#L" x="188"/></g><g id="k38-4"><use href="#L" x="240"/></g><g id="k38-5"><use href="#L" x="292"/></g><g id="k38-6"><use href="#L" x="344"/></g><g id="k38-7"><use href="#l" x="396"/></g><g id="k38-8"><use href="#l" x="448"/></g><g id="k38-9"><use href="#L" x="500"/></g><g id="k38-10"><use href="#l" x="552"/></g><g id="k38-11"><use href="#l" x="604"/></g><g id="k38-12"><use href="#L" x="656"/></g><g id="k38-13"><use href="#l" x="708"/></g><g id="k38-14"><use href="#L" x="760"/></g><g id="k38-15"><use href="#L" x="812"/></g><g id="k38-16"><use href="#L" x="864"/></g><g id="k38-17"><use href="#L" x="916"/></g><g id="k38-18"><use href="#L" x="968"/></g><g id="k38-19"><use href="#L" x="1020"/></g></g>
<g id="r39" transform="translate(0 2038)"><g id="k39-1"><use href="#R" x="84"/></g><g id="k39-2"><use href="#R" x="136"/></g><g id="k39-3"><use href="#R" x="188"/></g><g id="k39-4"><use href="#R" x="240"/></g><g id="k39-5"><use href="#R" x="292"/></g><g id="k39-6"><use href="#R" x="344"/></g><g id="k39-7"><use href="#R" x="396"/></g><g id="k39-8"><use href="#R" x="448"/></g><g id="k39-9"><use href="#r" x="500"/></g><g id="k39-10"><use href="#r" x="552"/></g><g id="k39-11"><use href="#R" x="604"/></g><g id="k39-12"><use href="#r" x="656"/></g><g id="k39-13"><use href="#r" x="708"/></g><g id="k39-14"><use href="#r" x="760"/></g><g id="k39-15"><use href="#R" x="812"/></g><g id="k39-16"><use href="#R" x="864"/></g><g id="k39-17"><use href="#R" x="916"/></g><g id="k39-18"><use href="#R" x="968"/></g><g id="k39-19"><use href="#R" x="1020"/></g></g>
<g id="r40" transform="translate(0 2090)"><g id="k40-1"><use href="#L" x="84"/></g><g id="k40-2"><use href="#L" x="136"/></g><g id="k40-3"><use href="#L" x="188"/></g><g id="k40-4"><use href="#L" x="240"/></g><g id="k40-5"><use href="#L" x="292"/></g><g id="k40-6"><use href="#L" x="344"/></g><g id="k40-7"><use href="#l" x="396"/></g><g id="k40-8"><use href="#l" x="448"/></g><g id="k40-9"><use href="#L" x="500"/></g><g id="k40-10"><use href="#L" x="552"/></g><g id="k40-11"><use href="#L" x="604"/></g><g id="k40-12"><use href="#L" x="656"/></g><g id="k40-13"><use href="#L" x="708"/></g><g id="k40-14"><use href="#L" x="760"/></g><g id="k40-15"><use href="#L" x="812"/></g><g id="k40-16"><use href="#L" x="864"/></g><g id="k40-17"><use href="#L" x="916"/></g><g id="k40-18"><use href="#L" x="968"/></g><g id="k40-19"><use href="#L" x="1020"/></g></g>
<g id="r41" transform="translate(0 2142)"><g id="k41-1"><use href="#R" x="84"/></g><g id="k41-2"><use href="#R" x="136"/></g><g id="k41-3"><use href="#R" x="188"/></g><g id="k41-4"><use href="#R" x="240"/></g><g id="k41-5"><use href="#R" x="292"/></g><g id="k41-6"><use href="#R" x="344"/></g><g id="k41-7"><use href="#R" x="396"/></g><g id="k41-8"><use href="#R" x="448"/></g><g id="k41-9"><use href="#r" x="500"/></g><g id="k41-10"><use href="#r" x="552"/></g><g id="k41-11"><use href="#R" x="604"/></g><g id="k41-12"><use href="#R" x="656"/></g><g id="k41-13"><use href="#R" x="708"/></g><g id="k41-14"><use href="#R" x="760"/></g><g id="k41-15"><use href="#R" x="812"/></g><g id="k41-16"><use href="#R" x="864"/></g><g id="k41-17"><use href="#R" x="916"/></g><g id="k41-18"><use href="#R" x="968"/></g><g id="k41-19"><use href="#R" x="1020"/></g></g>
<g id="r42" transform="translate(0 2194)"><g id="k42-1"><use href="#L" x="84"/></g><g id="k42-2"><use href="#L" x="136"/></g><g id="k42-3"><use href="#L" x="188"/></g><g id="k42-4"><use href="#L" x="240"/></g><g id="k42-5"><use href="#L" x="292"/></g><g id="k42-6"><use href="#L" x="344"/></g><g id="k42-7"><use href="#L" x="396"/></g><g id="k42-8"><use href="#L" x="448"/></g><g id="k42-9"><use href="#L" x="500"/></g><g id="k42-10"><use href="#L" x="552"/></g><g id="k42-11"><use href="#l" x="604"/></g><g id="k42-12"><use href="#l" x="656"/></g><g id="k42-13"><use href="#l" x="708"/></g><g id="k42-14"><use href="#L" x="760"/></g><g id="k42-15"><use href="#L" x="812"/></g><g id="k42-16"><use href="#L" x="864"/></g><g id="k42-17"><use href="#L" x="916"/></g><g id="k42-18"><use href="#L" x="968"/></g><g id="k42-19"><use href="#L" x="1020"/></g></g>
<g id="r43" transform="translate(0 2246)"><g id="k43-1"><use href="#R" x="84"/></g><g id="k43-2"><use href="#R" x="136"/></g><g id="k43-3"><use href="#R" x="188"/></g><g id="k43-4"><use href="#R" x="240"/></g><g id="k43-5"><use href="#R" x="292"/></g><g id="k43-6"><use href="#R" x="344"/></g><g id="k43-7"><use href="#R" x="396"/></g><g id="k43-8"><use href="#R" x="448"/></g><g id="k43-9"><use href="#R" x="500"/></g><g id="k43-10"><use href="#R" x="552"/></g><g id="k43-11"><use href="#r" x="604"/></g><g id="k43-12"><use href="#R" x="656"/></g><g id="k43-13"><use href="#R" x="708"/></g><g id="k43-14"><use href="#r" x="760"/></g><g id="k43-15"><use href="#r" x="812"/></g><g id="k43-16"><use href="#r" x="864"/></g><g id="k43-17"><use href="#R" x="916"/></g><g id="k43-18"><use href="#R" x="968"/></g><g id="k43-19"><use href="#R" x="1020"/></g></g>
<g id="r44" transform="translate(0 2298)"><g id="k44-1"><use href="#L" x="84"/></g><g id="k44-2"><use href="#L" x="136"/></g><g id="k44-3"><use href="#L" x="188"/></g><g id="k44-4"><use href="#L" x="240"/></g><g id="k44-5"><use href="#L" x="292"/></g><g id="k44-6"><use href="#L" x="344"/></g><g id="k44-7"><use href="#L" x="396"/></g><g id="k44-8"><use href="#L" x="448"/></g><g id="k44-9"><use href="#L" x="500"/></g><g id="k44-10"><use href="#l" x="552"/></g><g id="k44-11"><use href="#L" x="604"/></g><g id="k44-12"><use href="#l" x="656"/></g><g id="k44-13"><use href="#L" x="708"/></g><g id="k44-14"><use href="#L" x="760"/></g><g id="k44-15"><use href="#L" x="812"/></g><g id="k44-16"><use href="#L" x="864"/></g><g id="k44-17"><use href="#l" x="916"/></g><g id="k44-18"><use href="#L" x="968"/></g><g id="k44-19"><use href="#L" x="1020"/></g></g>
<g id="r45" transform="translate(0 2350)"><g id="k45-1"><use href="#R" x="84"/></g><g id="k45-2"><use href="#R" x="136"/></g><g id="k45-3"><use href="#R" x="188"/></g><g id="k45-4"><use href="#R" x="240"/></g><g id="k45-5"><use href="#R" x="292"/></g><g id="k45-6"><use href="#R" x="344"/></g><g id="k45-7"><use href="#R" x="396"/></g><g id="k45-8"><use href="#R" x="448"/></g><g id="k45-9"><use href="#r" x="500"/></g><g id="k45-10"><use href="#R" x="552"/></g><g id="k45-11"><use href="#R" x="604"/></g><g id="k45-12"><use href="#R" x="656"/></g><g id="k45-13"><use href="#R" x="708"/></g><g id="k45-14"><use href="#R" x="760"/></g><g id="k45-15"><use href="#R" x="812"/></g><g id="k45-16"><use href="#R" x="864"/></g><g id="k45-17"><use href="#R" x="916"/></g><g id="k45-18"><use href="#R" x="968"/></g><g id="k45-19"><use href="#R" x="1020"/></g></g>
<g id="r46" transform="translate(0 2402)"><g id="k46-1"><use href="#L" x="84"/></g><g id="k46-2"><use href="#L" x="136"/></g><g id="k46-3"><use href="#L" x="188"/></g><g id="k46-4"><use href="#L" x="240"/></g><g id="k46-5"><use href="#L" x="292"/></g><g id="k46-6"><use href="#L" x="344"/></g><g id="k46-7"><use href="#L" x="396"/></g><g id="k46-8"><use href="#L" x="448"/></g><g id="k46-9"><use href="#L" x="500"/></g><g id="k46-10"><use href="#L" x="552"/></g><g id="k46-11"><use href="#L" x="604"/></g><g id="k46-12"><use href="#L" x="656"/></g><g id="k46-13"><use href="#L" x="708"/></g><g id="k46-14"><use href="#L" x="760"/></g><g id="k46-15"><use href="#L" x="812"/></g><g id="k46-16"><use href="#L" x="864"/></g><g id="k46-17"><use href="#L" x="916"/></g><g id="k46-18"><use href="#L" x="968"/></g><g id="k46-19"><use href="#L" x="1020"/></g></g>
<g id="r47" transform="translate(0 2454)"><g id="k47-1"><use href="#R" x="84"/></g><g id="k47-2"><use href="#R" x="136"/></g><g id="k47-3"><use href="#R" x="188"/></g><g id="k47-4"><use href="#R" x="240"/></g><g id="k47-5"><use href="#R" x="292"/></g><g id="k47-6"><use href="#R" x="344"/></g><g id="k47-7"><use href="#R" x="396"/></g><g id="k47-8"><use href="#R" x="448"/></g><g id="k47-9"><use href="#R" x="500"/></g><g id="k47-10"><use href="#R" x="552"/></g><g id="k47-11"><use href="#R" x="604"/></g><g id="k47-12"><use href="#R" x="656"/></g><g id="k47-13"><use href="#R" x="708"/></g><g id="k47-14"><use href="#R" x="760"/></g><g id="k47-15"><use href="#R" x="812"/></g><g id="k47-16"><use href="#R" x="864"/></g><g id="k47-17"><use href="#R" x="916"/></g><g id="k47-18"><use href="#R" x="968"/></g><g id="k47-19"><use href="#R" x="1020"/></g></g>
<g id="r48" transform="translate(0 2506)"><g id="k48-1"><use href="#L" x="84"/></g><g id="k48-2"><use href="#L" x="136"/></g><g id="k48-3"><use href="#L" x="188"/></g><g id="k48-4"><use href="#L" x="240"/></g><g id="k48-5"><use href="#L" x="292"/></g><g id="k48-6"><use href="#L" x="344"/></g><g id="k48-7"><use href="#L" x="396"/></g><g id="k48-8"><use href="#L" x="448"/></g><g id="k48-9"><use href="#L" x="500"/></g><g id="k48-10"><use href="#L" x="552"/></g><g id="k48-11"><use href="#L" x="604"/></g><g id="k48-12"><use href="#L" x="656"/></g><g id="k48-13"><use href="#L" x="708"/></g><g id="k48-14"><use href="#L" x="760"/></g><g id="k48-15"><use href="#L" x="812"/></g><g id="k48-16"><use href="#L" x="864"/></g><g id="k48-17"><use href="#L" x="916"/></g><g id="k48-18"><use href="#L" x="968"/></g><g id="k48-19"><use href="#L" x="1020"/></g></g>
<g id="r49" transform="translate(0 2558)"><g id="k49-1"><use href="#R" x="84"/></g><g id="k49-2"><use href="#R" x="136"/></g><g id="k49-3"><use href="#R" x="188"/></g><g id="k49-4"><use href="#R" x="240"/></g><g id="k49-5"><use href="#R" x="292"/></g><g id="k49-6"><use href="#R" x="344"/></g><g id="k49-7"><use href="#R" x="396"/></g><g id="k49-8"><use href="#R" x="448"/></g><g id="k49-9"><use href="#R" x="500"/></g><g id="k49-10"><use href="#R" x="552"/></g><g id="k49-11"><use href="#R" x="604"/></g><g id="k49-12"><use href="#R" x="656"/></g><g id="k49-13"><use href="#R" x="708"/></g><g id="k49-14"><use href="#R" x="760"/></g><g id="k49-15"><use href="#R" x="812"/></g><g id="k49-16"><use href="#R" x="864"/></g><g id="k49-17"><use href="#R" x="916"/></g><g id="k49-18"><use href="#R" x="968"/></g><g id="k49-19"><use href="#R" x="1020"/></g></g>
<g id="r50" transform="translate(0 2610)"><g id="k50-1"><use href="#L" x="84"/></g><g id="k50-2"><use href="#L" x="136"/></g><g id="k50-3"><use href="#L" x="188"/></g><g id="k50-4"><use href="#L" x="240"/></g><g id="k50-5"><use href="#L" x="292"/></g><g id="k50-6"><use href="#L" x="344"/></g><g id="k50-7"><use href="#L" x="396"/></g><g id="k50-8"><use href="#L" x="448"/></g><g id="k50-9"><use href="#L" x="500"/></g><g id="k50-10"><use href="#L" x="552"/></g><g id="k50-11"><use href="#L" x="604"/></g><g id="k50-12"><use href="#L" x="656"/></g><g id="k50-13"><use href="#L" x="708"/></g><g id="k50-14"><use href="#L" x="760"/></g><g id="k50-15"><use href="#L" x="812"/></g><g id="k50-16"><use href="#L" x="864"/></g><g id="k50-17"><use href="#L" x="916"/></g><g id="k50-18"><use href="#L" x="968"/></g><g id="k50-19"><use href="#L" x="1020"/></g></g>
<g id="r51" transform="translate(0 2662)"><g id="k51-1"><use href="#R" x="84"/></g><g id="k51-2"><use href="#R" x="136"/></g><g id="k51-3"><use href="#R" x="188"/></g><g id="k51-4"><use href="#R" x="240"/></g><g id="k51-5"><use href="#R" x="292"/></g><g id="k51-6"><use href="#R" x="344"/></g><g id="k51-7"><use href="#R" x="396"/></g><g id="k51-8"><use href="#R" x="448"/></g><g id="k51-9"><use href="#R" x="500"/></g><g id="k51-10"><use href="#R" x="552"/></g><g id="k51-11"><use href="#R" x="604"/></g><g id="k51-12"><use href="#R" x="656"/></g><g id="k51-13"><use href="#R" x="708"/></g><g id="k51-14"><use href="#R" x="760"/></g><g id="k51-15"><use href="#R" x="812"/></g><g id="k51-16"><use href="#R" x="864"/></g><g id="k51-17"><use href="#R" x="916"/></g><g id="k51-18"><use href="#R" x="968"/></g><g id="k51-19"><use href="#R" x="1020"/></g></g>
<g id="r52" transform="translate(0 2714)"><g id="k52-1"><use href="#L" x="84"/></g><g id="k52-2"><use href="#L" x="136"/></g><g id="k52-3"><use href="#L" x="188"/></g><g id="k52-4"><use href="#L" x="240"/></g><g id="k52-5"><use href="#L" x="292"/></g><g id="k52-6"><use href="#L" x="344"/></g><g id="k52-7"><use href="#L" x="396"/></g><g id="k52-8"><use href="#L" x="448"/></g><g id="k52-9"><use href="#L" x="500"/></g><g id="k52-10"><use href="#L" x="552"/></g><g id="k52-11"><use href="#L" x="604"/></g><g id="k52-12"><use href="#L" x="656"/></g><g id="k52-13"><use href="#L" x="708"/></g><g id="k52-14"><use href="#L" x="760"/></g><g id="k52-15"><use href="#L" x="812"/></g><g id="k52-16"><use href="#L" x="864"/></g><g id="k52-17"><use href="#L" x="916"/></g><g id="k52-18"><use href="#L" x="968"/></g><g id="k52-19"><use href="#L" x="1020"/></g></g>
<g id="r53" transform="translate(0 2766)"><g id="k53-1"><use href="#R" x="84"/></g><g id="k53-2"><use href="#R" x="136"/></g><g id="k53-3"><use href="#R" x="188"/></g><g id="k53-4"><use href="#R" x="240"/></g><g id="k53-5"><use href="#R" x="292"/></g><g id="k53-6"><use href="#R" x="344"/></g><g id="k53-7"><use href="#R" x="396"/></g><g id="k53-8"><use href="#R" x="448"/></g><g id="k53-9"><use href="#R" x="500"/></g><g id="k53-10"><use href="#R" x="552"/></g><g id="k53-11"><use href="#R" x="604"/></g><g id="k53-12"><use href="#R" x="656"/></g><g id="k53-13"><use href="#R" x="708"/></g><g id="k53-14"><use href="#R" x="760"/></g><g id="k53-15"><use href="#R" x="812"/></g><g id="k53-16"><use href="#R" x="864"/></g><g id="k53-17"><use href="#R" x="916"/></g><g id="k53-18"><use href="#R" x="968"/></g><g id="k53-19"><use href="#R" x="1020"/></g></g>
<g id="r54" transform="translate(0 2818)"><g id="k54-1"><use href="#L" x="84"/></g><g id="k54-2"><use href="#L" x="136"/></g><g id="k54-3"><use href="#L" x="188"/></g><g id="k54-4"><use href="#L" x="240"/></g><g id="k54-5"><use href="#L" x="292"/></g><g id="k54-6"><use href="#L" x="344"/></g><g id="k54-7"><use href="#L" x="396"/></g><g id="k54-8"><use href="#L" x="448"/></g><g id="k54-9"><use href="#L" x="500"/></g><g id="k54-10"><use href="#L" x="552"/></g><g id="k54-11"><use href="#L" x="604"/></g><g id="k54-12"><use href="#L" x="656"/></g><g id="k54-13"><use href="#L" x="708"/></g><g id="k54-14"><use href="#L" x="760"/></g><g id="k54-15"><use href="#L" x="812"/></g><g id="k54-16"><use href="#L" x="864"/></g><g id="k54-17"><use href="#L" x="916"/></g><g id="k54-18"><use href="#L" x="968"/></g><g id="k54-19"><use href="#L" x="1020"/></g></g>
<g id="r55" transform="translate(0 2870)"><g id="k55-1"><use href="#R" x="84"/></g><g id="k55-2"><use href="#R" x="136"/></g><g id="k55-3"><use href="#R" x="188"/></g><g id="k55-4"><use href="#R" x="240"/></g><g id="k55-5"><use href="#R" x="292"/></g><g id="k55-6"><use href="#R" x="344"/></g><g id="k55-7"><use href="#R" x="396"/></g><g id="k55-8"><use href="#R" x="448"/></g><g id="k55-9"><use href="#R" x="500"/></g><g id="k55-10"><use href="#R" x="552"/></g><g id="k55-11"><use href="#R" x="604"/></g><g id="k55-12"><use href="#R" x="656"/></g><g id="k55-13"><use href="#R" x="708"/></g><g id="k55-14"><use href="#R" x="760"/></g><g id="k55-15"><use href="#R" x="812"/></g><g id="k55-16"><use href="#R" x="864"/></g><g id="k55-17"><use href="#R" x="916"/></g><g id="k55-18"><use href="#R" x="968"/></g><g id="k55-19"><use href="#R" x="1020"/></g></g>
<g id="r56" transform="translate(0 2922)"><g id="k56-1"><use href="#L" x="84"/></g><g id="k56-2"><use href="#L" x="136"/></g><g id="k56-3"><use href="#L" x="188"/></g><g id="k56-4"><use href="#L" x="240"/></g><g id="k56-5"><use href="#L" x="292"/></g><g id="k56-6"><use href="#L" x="344"/></g><g id="k56-7"><use href="#L" x="396"/></g><g id="k56-8"><use href="#L" x="448"/></g><g id="k56-9"><use href="#L" x="500"/></g><g id="k56-10"><use href="#L" x="552"/></g><g id="k56-11"><use href="#L" x="604"/></g><g id="k56-12"><use href="#L" x="656"/></g><g id="k56-13"><use href="#L" x="708"/></g><g id="k56-14"><use href="#L" x="760"/></g><g id="k56-15"><use href="#L" x="812"/></g><g id="k56-16"><use href="#L" x="864"/></g><g id="k56-17"><use href="#L" x="916"/></g><g id="k56-18"><use href="#L" x="968"/></g><g id="k56-19"><use href="#L" x="1020"/></g></g>
<g id="r57" transform="translate(0 2974)"><g id="k57-1"><use href="#R" x="84"/></g><g id="k57-2"><use href="#R" x="136"/></g><g id="k57-3"><use href="#R" x="188"/></g><g id="k57-4"><use href="#R" x="240"/></g><g id="k57-5"><use href="#R" x="292"/></g><g id="k57-6"><use href="#R" x="344"/></g><g id="k57-7"><use href="#R" x="396"/></g><g id="k57-8"><use href="#R" x="448"/></g><g id="k57-9"><use href="#R" x="500"/></g><g id="k57-10"><use href="#R" x="552"/></g><g id="k57-11"><use href="#R" x="604"/></g><g id="k57-12"><use href="#R" x="656"/></g><g id="k57-13"><use href="#R" x="708"/></g><g id="k57-14"><use href="#R" x="760"/></g><g id="k57-15"><use href="#R" x="812"/></g><g id="k57-16"><use href="#R" x="864"/></g><g id="k57-17"><use href="#R" x="916"/></g><g id="k57-18"><use href="#R" x="968"/></g><g id="k57-19"><use href="#R" x="1020"/></g></g>
<g id="r58" transform="translate(0 3026)"><g id="k58-1"><use href="#L" x="84"/></g><g id="k58-2"><use href="#L" x="136"/></g><g id="k58-3"><use href="#L" x="188"/></g><g id="k58-4"><use href="#L" x="240"/></g><g id="k58-5"><use href="#L" x="292"/></g><g id="k58-6"><use href="#L" x="344"/></g><g id="k58-7"><use href="#L" x="396"/></g><g id="k58-8"><use href="#L" x="448"/></g><g id="k58-9"><use href="#L" x="500"/></g><g id="k58-10"><use href="#L" x="552"/></g><g id="k58-11"><use href="#L" x="604"/></g><g id="k58-12"><use href="#L" x="656"/></g><g id="k58-13"><use href="#L" x="708"/></g><g id="k58-14"><use href="#L" x="760"/></g><g id="k58-15"><use href="#L" x="812"/></g><g id="k58-16"><use href="#L" x="864"/></g><g id="k58-17"><use href="#L" x="916"/></g><g id="k58-18"><use href="#L" x="968"/></g><g id="k58-19"><use href="#L" x="1020"/></g></g>
<g id="r59" transform="translate(0 3078)"><g id="k59-1"><use href="#R" x="84"/></g><g id="k59-2"><use href="#R" x="136"/></g><g id="k59-3"><use href="#R" x="188"/></g><g id="k59-4"><use href="#R" x="240"/></g><g id="k59-5"><use href="#R" x="292"/></g><g id="k59-6"><use href="#R" x="344"/></g><g id="k59-7"><use href="#R" x="396"/></g><g id="k59-8"><use href="#R" x="448"/></g><g id="k59-9"><use href="#R" x="500"/></g><g id="k59-10"><use href="#R" x="552"/></g><g id="k59-11"><use href="#R" x="604"/></g><g id="k59-12"><use href="#R" x="656"/></g><g id="k59-13"><use href="#R" x="708"/></g><g id="k59-14"><use href="#R" x="760"/></g><g id="k59-15"><use href="#R" x="812"/></g><g id="k59-16"><use href="#R" x="864"/></g><g id="k59-17"><use href="#R" x="916"/></g><g id="k59-18"><use href="#R" x="968"/></g><g id="k59-19"><use href="#R" x="1020"/></g></g>
<g id="r60" transform="translate(0 3130)"><g id="k60-1"><use href="#L" x="84"/></g><g id="k60-2"><use href="#L" x="136"/></g><g id="k60-3"><use href="#L" x="188"/></g><g id="k60-4"><use href="#L" x="240"/></g><g id="k60-5"><use href="#L" x="292"/></g><g id="k60-6"><use href="#L" x="344"/></g><g id="k60-7"><use href="#L" x="396"/></g><g id="k60-8"><use href="#L" x="448"/></g><g id="k60-9"><use href="#L" x="500"/></g><g id="k60-10"><use href="#L" x="552"/></g><g id="k60-11"><use href="#L" x="604"/></g><g id="k60-12"><use href="#L" x="656"/></g><g id="k60-13"><use href="#L" x="708"/></g><g id="k60-14"><use href="#L" x="760"/></g><g id="k60-15"><use href="#L" x="812"/></g><g id="k60-16"><use href="#L" x="864"/></g><g id="k60-17"><use href="#L" x="916"/></g><g id="k60-18"><use href="#L" x="968"/></g><g id="k60-19"><use href="#L" x="1020"/></g></g>
<g id="r61" transform="translate(0 3182)"><g id="k61-1"><use href="#R" x="84"/></g><g id="k61-2"><use href="#R" x="136"/></g><g id="k61-3"><use href="#R" x="188"/></g><g id="k61-4"><use href="#R" x="240"/></g><g id="k61-5"><use href="#R" x="292"/></g><g id="k61-6"><use href="#R" x="344"/></g><g id="k61-7"><use href="#R" x="396"/></g><g id="k61-8"><use href="#R" x="448"/></g><g id="k61-9"><use href="#R" x="500"/></g><g id="k61-10"><use href="#R" x="552"/></g><g id="k61-11"><use href="#R" x="604"/></g><g id="k61-12"><use href="#R" x="656"/></g><g id="k61-13"><use href="#R" x="708"/></g><g id="k61-14"><use href="#R" x="760"/></g><g id="k61-15"><use href="#R" x="812"/></g><g id="k61-16"><use href="#R" x="864"/></g><g id="k61-17"><use href="#R" x="916"/></g><g id="k61-18"><use href="#R" x="968"/></g><g id="k61-19"><use href="#R" x="1020"/></g></g>
<g id="r62" transform="translate(0 3234)"><g id="k62-1"><use href="#L" x="84"/></g><g id="k62-2"><use href="#L" x="136"/></g><g id="k62-3"><use href="#L" x="188"/></g><g id="k62-4"><use href="#L" x="240"/></g><g id="k62-5"><use href="#L" x="292"/></g><g id="k62-6"><use href="#L" x="344"/></g><g id="k62-7"><use href="#L" x="396"/></g><g id="k62-8"><use href="#L" x="448"/></g><g id="k62-9"><use href="#L" x="500"/></g><g id="k62-10"><use href="#L" x="552"/></g><g id="k62-11"><use href="#L" x="604"/></g><g id="k62-12"><use href="#L" x="656"/></g><g id="k62-13"><use href="#L" x="708"/></g><g id="k62-14"><use href="#L" x="760"/></g><g id="k62-15"><use href="#L" x="812"/></g><g id="k62-16"><use href="#L" x="864"/></g><g id="k62-17"><use href="#L" x="916"/></g><g id="k62-18"><use href="#L" x="968"/></g><g id="k62-19"><use href="#L" x="1020"/></g></g>
<g id="r63" transform="translate(0 3286)"><g id="k63-1"><use href="#R" x="84"/></g><g id="k63-2"><use href="#R" x="136"/></g><g id="k63-3"><use href="#R" x="188"/></g><g id="k63-4"><use href="#R" x="240"/></g><g id="k63-5"><use href="#R" x="292"/></g><g id="k63-6"><use href="#R" x="344"/></g><g id="k63-7"><use href="#R" x="396"/></g><g id="k63-8"><use href="#R" x="448"/></g><g id="k63-9"><use href="#R" x="500"/></g><g id="k63-10"><use href="#R" x="552"/></g><g id="k63-11"><use href="#R" x="604"/></g><g id="k63-12"><use href="#R" x="656"/></g><g id="k63-13"><use href="#R" x="708"/></g><g id="k63-14"><use href="#R" x="760"/></g><g id="k63-15"><use href="#R" x="812"/></g><g id="k63-16"><use href="#R" x="864"/></g><g id="k63-17"><use href="#R" x="916"/></g><g id="k63-18"><use href="#R" x="968"/></g><g id="k63-19"><use href="#R" x="1020"/></g></g>
<g id="r64" transform="translate(0 3338)"><g id="k64-1"><use href="#L" x="84"/></g><g id="k64-2"><use href="#L" x="136"/></g><g id="k64-3"><use href="#L" x="188"/></g><g id="k64-4"><use href="#L" x="240"/></g><g id="k64-5"><use href="#L" x="292"/></g><g id="k64-6"><use href="#L" x="344"/></g><g id="k64-7"><use href="#L" x="396"/></g><g id="k64-8"><use href="#L" x="448"/></g><g id="k64-9"><use href="#L" x="500"/></g><g id="k64-10"><use href="#L" x="552"/></g><g id="k64-11"><use href="#L" x="604"/></g><g id="k64-12"><use href="#L" x="656"/></g><g id="k64-13"><use href="#L" x="708"/></g><g id="k64-14"><use href="#L" x="760"/></g><g id="k64-15"><use href="#L" x="812"/></g><g id="k64-16"><use href="#L" x="864"/></g><g id="k64-17"><use href="#L" x="916"/></g><g id="k64-18"><use href="#L" x="968"/></g><g id="k64-19"><use href="#L" x="1020"/></g></g>
<g id="r65" transform="translate(0 3390)"><g id="k65-1"><use href="#R" x="84"/></g><g id="k65-2"><use href="#R" x="136"/></g><g id="k65-3"><use href="#R" x="188"/></g><g id="k65-4"><use href="#R" x="240"/></g><g id="k65-5"><use href="#R" x="292"/></g><g id="k65-6"><use href="#R" x="344"/></g><g id="k65-7"><use href="#R" x="396"/></g><g id="k65-8"><use href="#R" x="448"/></g><g id="k65-9"><use href="#R" x="500"/></g><g id="k65-10"><use href="#R" x="552"/></g><g id="k65-11"><use href="#R" x="604"/></g><g id="k65-12"><use href="#R" x="656"/></g><g id="k65-13"><use href="#R" x="708"/></g><g id="k65-14"><use href="#R" x="760"/></g><g id="k65-15"><use href="#R" x="812"/></g><g id="k65-16"><use href="#R" x="864"/></g><g id="k65-17"><use href="#R" x="916"/></g><g id="k65-18"><use href="#R" x="968"/></g><g id="k65-19"><use href="#R" x="1020"/></g></g>
<g id="r66" transform="translate(0 3442)"><g id="k66-1"><use href="#L" x="84"/></g><g id="k66-2"><use href="#L" x="136"/></g><g id="k66-3"><use href="#L" x="188"/></g><g id="k66-4"><use href="#L" x="240"/></g><g id="k66-5"><use href="#L" x="292"/></g><g id="k66-6"><use href="#L" x="344"/></g><g id="k66-7"><use href="#L" x="396"/></g><g id="k66-8"><use href="#L" x="448"/></g><g id="k66-9"><use href="#L" x="500"/></g><g id="k66-10"><use href="#L" x="552"/></g><g id="k66-11"><use href="#L" x="604"/></g><g id="k66-12"><use href="#L" x="656"/></g><g id="k66-13"><use href="#L" x="708"/></g><g id="k66-14"><use href="#L" x="760"/></g><g id="k66-15"><use href="#L" x="812"/></g><g id="k66-16"><use href="#L" x="864"/></g><g id="k66-17"><use href="#L" x="916"/></g><g id="k66-18"><use href="#L" x="968"/></g><g id="k66-19"><use href="#L" x="1020"/></g></g>
<g id="r67" transform="translate(0 3494)"><g id="k67-1"><use href="#R" x="84"/></g><g id="k67-2"><use href="#R" x="136"/></g><g id="k67-3"><use href="#R" x="188"/></g><g id="k67-4"><use href="#R" x="240"/></g><g id="k67-5"><use href="#R" x="292"/></g><g id="k67-6"><use href="#R" x="344"/></g><g id="k67-7"><use href="#R" x="396"/></g><g id="k67-8"><use href="#R" x="448"/></g><g id="k67-9"><use href="#R" x="500"/></g><g id="k67-10"><use href="#R" x="552"/></g><g id="k67-11"><use href="#R" x="604"/></g><g id="k67-12"><use href="#R" x="656"/></g><g id="k67-13"><use href="#R" x="708"/></g><g id="k67-14"><use href="#R" x="760"/></g><g id="k67-15"><use href="#R" x="812"/></g><g id="k67-16"><use href="#R" x="864"/></g><g id="k67-17"><use href="#R" x="916"/></g><g id="k67-18"><use href="#R" x="968"/></g><g id="k67-19"><use href="#R" x="1020"/></g></g>
<g id="r68" transform="translate(0 3546)"><g id="k68-1"><use href="#L" x="84"/></g><g id="k68-2"><use href="#L" x="136"/></g><g id="k68-3"><use href="#L" x="188"/></g><g id="k68-4"><use href="#L" x="240"/></g><g id="k68-5"><use href="#L" x="292"/></g><g id="k68-6"><use href="#L" x="344"/></g><g id="k68-7"><use href="#L" x="396"/></g><g id="k68-8"><use href="#L" x="448"/></g><g id="k68-9"><use href="#L" x="500"/></g><g id="k68-10"><use href="#L" x="552"/></g><g id="k68-11"><use href="#L" x="604"/></g><g id="k68-12"><use href="#L" x="656"/></g><g id="k68-13"><use href="#L" x="708"/></g><g id="k68-14"><use href="#L" x="760"/></g><g id="k68-15"><use href="#L" x="812"/></g><g id="k68-16"><use href="#L" x="864"/></g><g id="k68-17"><use href="#L" x="916"/></g><g id="k68-18"><use href="#L" x="968"/></g><g id="k68-19"><use href="#L" x="1020"/></g></g>
<g id="r69" transform="translate(0 3598)"><g id="k69-1"><use href="#R" x="84"/></g><g id="k69-2"><use href="#R" x="136"/></g><g id="k69-3"><use href="#R" x="188"/></g><g id="k69-4"><use href="#R" x="240"/></g><g id="k69-5"><use href="#R" x="292"/></g><g id="k69-6"><use href="#R" x="344"/></g><g id="k69-7"><use href="#R" x="396"/></g><g id="k69-8"><use href="#R" x="448"/></g><g id="k69-9"><use href="#R" x="500"/></g><g id="k69-10"><use href="#R" x="552"/></g><g id="k69-11"><use href="#R" x="604"/></g><g id="k69-12"><use href="#R" x="656"/></g><g id="k69-13"><use href="#R" x="708"/></g><g id="k69-14"><use href="#R" x="760"/></g><g id="k69-15"><use href="#R" x="812"/></g><g id="k69-16"><use href="#R" x="864"/></g><g id="k69-17"><use href="#R" x="916"/></g><g id="k69-18"><use href="#R" x="968"/></g><g id="k69-19"><use href="#R" x="1020"/></g></g>
<g id="r70" transform="translate(0 3650)"><g id="k70-1"><use href="#L" x="84"/></g><g id="k70-2"><use href="#L" x="136"/></g><g id="k70-3"><use href="#L" x="188"/></g><g id="k70-4"><use href="#L" x="240"/></g><g id="k70-5"><use href="#L" x="292"/></g><g id="k70-6"><use href="#L" x="344"/></g><g id="k70-7"><use href="#L" x="396"/></g><g id="k70-8"><use href="#L" x="448"/></g><g id="k70-9"><use href="#L" x="500"/></g><g id="k70-10"><use href="#L" x="552"/></g><g id="k70-11"><use href="#L" x="604"/></g><g id="k70-12"><use href="#L" x="656"/></g><g id="k70-13"><use href="#L" x="708"/></g><g id="k70-14"><use href="#L" x="760"/></g><g id="k70-15"><use href="#L" x="812"/></g><g id="k70-16"><use href="#L" x="864"/></g><g id="k70-17"><use href="#L" x="916"/></g><g id="k70-18"><use href="#L" x="968"/></g><g id="k70-19"><use href="#L" x="1020"/></g></g>
<g id="r71" transform="translate(0 3702)"><g id="k71-1"><use href="#R" x="84"/></g><g id="k71-2"><use href="#R" x="136"/></g><g id="k71-3"><use href="#R" x="188"/></g><g id="k71-4"><use href="#R" x="240"/></g><g id="k71-5"><use href="#R" x="292"/></g><g id="k71-6"><use href="#R" x="344"/></g><g id="k71-7"><use href="#R" x="396"/></g><g id="k71-8"><use href="#R" x="448"/></g><g id="k71-9"><use href="#R" x="500"/></g><g id="k71-10"><use href="#R" x="552"/></g><g id="k71-11"><use href="#R" x="604"/></g><g id="k71-12"><use href="#R" x="656"/></g><g id="k71-13"><use href="#R" x="708"/></g><g id="k71-14"><use href="#R" x="760"/></g><g id="k71-15"><use href="#R" x="812"/></g><g id="k71-16"><use href="#R" x="864"/></g><g id="k71-17"><use href="#R" x="916"/></g><g id="k71-18"><use href="#R" x="968"/></g><g id="k71-19"><use href="#R" x="1020"/></g></g>
</g>
<g id="labels">
<text class="tag" x="35" y="65.5" fill="#fff">A</text>
<text class="tag" x="1071.5" y="3705.5" fill="#fff">A</text>
<text class="tag" x="35" y="1417.5" fill="#000">B</text>
<text class="tag" x="1071.5" y="2353.5" fill="#000">B</text>
<path class="gl" d="M26 114H66M26 166H66M26 218H66M26 270H66M26 322H66M26 374H66M26 426H66M26 478H66M26 530H66M26 582H66M26 634H66M26 686H66M26 738H66M26 790H66M26 842H66M26 894H66M26 946H66M26 998H66M26 1050H66M26 1102H66M26 1154H66M26 1206H66M26 1258H66M26 1310H66M26 1362H66M26 1466H66M26 1518H66M26 1570H66M26 1622H66M26 1674H66M26 1726H66M26 1778H66M26 1830H66M26 1882H66M26 1934H66M26 1986H66M26 2038H66M26 2090H66M26 2142H66M26 2194H66M26 2246H66M26 2298H66M26 2350H66M26 2402H66M26 2454H66M26 2506H66M26 2558H66M26 2610H66M26 2662H66M26 2714H66M26 2766H66M26 2818H66M26 2870H66M26 2922H66M26 2974H66M26 3026H66M26 3078H66M26 3130H66M26 3182H66M26 3234H66M26 3286H66M26 3338H66M26 3390H66M26 3442H66M26 3494H66M26 3546H66M26 3598H66M26 3650H66M26 3702H66"/>
<path class="gl" d="M1038 62H1078M1038 114H1078M1038 166H1078M1038 218H1078M1038 270H1078M1038 322H1078M1038 374H1078M1038 426H1078M1038 478H1078M1038 530H1078M1038 582H1078M1038 634H1078M1038 686H1078M1038 738H1078M1038 790H1078M1038 842H1078M1038 894H1078M1038 946H1078M1038 998H1078M1038 1050H1078M1038 1102H1078M1038 1154H1078M1038 1206H1078M1038 1258H1078M1038 1310H1078M1038 1362H1078M1038 1414H1078M1038 1466H1078M1038 1518H1078M1038 1570H1078M1038 1622H1078M1038 1674H1078M1038 1726H1078M1038 1778H1078M1038 1830H1078M1038 1882H1078M1038 1934H1078M1038 1986H1078M1038 2038H1078M1038 2090H1078M1038 2142H1078M1038 2194H1078M1038 2246H1078M1038 2298H1078M1038 2402H1078M1038 2454H1078M1038 2506H1078M1038 2558H1078M1038 2610H1078M1038 2662H1078M1038 2714H1078M1038 2766H1078M1038 2818H1078M1038 2870H1078M1038 2922H1078M1038 2974H1078M1038 3026H1078M1038 3078H1078M1038 3130H1078M1038 3182H1078M1038 3234H1078M1038 3286H1078M1038 3338H1078M1038 3390H1078M1038 3442H1078M1038 3494H1078M1038 3546H1078M1038 3598H1078M1038 3650H1078"/>
<g class="num ln">
<text x="21" y="66">1</text><text x="21" y="118">2</text><text x="21" y="170">3</text><text x="21" y="222">4</text><text x="21" y="274">5</text><text x="21" y="326">6</text><text x="21" y="378">7</text><text x="21" y="430">8</text><text x="21" y="482">9</text><text x="21" y="534">10</text><text x="21" y="586">11</text><text x="21" y="638">12</text><text x="21" y="690">13</text><text x="21" y="742">14</text><text x="21" y="794">15</text><text x="21" y="846">16</text><text x="21" y="898">17</text><text x="21" y="950">18</text><text x="21" y="1002">19</text><text x="21" y="1054">20</text><text x="21" y="1106">21</text><text x="21" y="1158">22</text><text x="21" y="1210">23</text><text x="21" y="1262">24</text><text x="21" y="1314">25</text><text x="21" y="1366">26</text><text x="21" y="1418">27</text><text x="21" y="1470">28</text><text x="21" y="1522">29</text><text x="21" y="1574">30</text><text x="21" y="1626">31</text><text x="21" y="1678">32</text><text x="21" y="1730">33</text><text x="21" y="1782">34</text><text x="21" y="1834">35</text><text x="21" y="1886">36</text><text x="21" y="1938">37</text><text x="21" y="1990">38</text><text x="21" y="2042">39</text><text x="21" y="2094">40</text><text x="21" y="2146">41</text><text x="21" y="2198">42</text><text x="21" y="2250">43</text><text x="21" y="2302">44</text><text x="21" y="2354">45</text><text x="21" y="2406">46</text><text x="21" y="2458">47</text><text x="21" y="2510">48</text><text x="21" y="2562">49</text><text x="21" y="2614">50</text><text x="21" y="2666">51</text><text x="21" y="2718">52</text><text x="21" y="2770">53</text><text x="21" y="2822">54</text><text x="21" y="2874">55</text><text x="21" y="2926">56</text><text x="21" y="2978">57</text><text x="21" y="3030">58</text><text x="21" y="3082">59</text><text x="21" y="3134">60</text><text x="21" y="3186">61</text><text x="21" y="3238">62</text><text x="21" y="3290">63</text><text x="21" y="3342">64</text><text x="21" y="3394">65</text><text x="21" y="3446">66</text><text x="21" y="3498">67</text><text x="21" y="3550">68</text><text x="21" y="3602">69</text><text x="21" y="3654">70</text><text x="21" y="3706">71</text>
</g>
<g class="num">
<text x="1083" y="66">1</text><text x="1083" y="118">2</text><text x="1083" y="170">3</text><text x="1083" y="222">4</text><text x="1083" y="274">5</text><text x="1083" y="326">6</text><text x="1083" y="378">7</text><text x="1083" y="430">8</text><text x="1083" y="482">9</text><text x="1083" y="534">10</text><text x="1083" y="586">11</text><text x="1083" y="638">12</text><text x="1083" y="690">13</text><text x="1083" y="742">14</text><text x="1083" y="794">15</text><text x="1083" y="846">16</text><text x="1083" y="898">17</text><text x="1083" y="950">18</text><text x="1083" y="1002">19</text><text x="1083" y="1054">20</text><text x="1083" y="1106">21</text><text x="1083" y="1158">22</text><text x="1083" y="1210">23</text><text x="1083" y="1262">24</text><text x="1083" y="1314">25</text><text x="1083" y="1366">26</text><text x="1083" y="1418">27</text><text x="1083" y="1470">28</text><text x="1083" y="1522">29</text><text x="1083" y="1574">30</text><text x="1083" y="1626">31</text><text x="1083" y="1678">32</text><text x="1083" y="1730">33</text><text x="1083" y="1782">34</text><text x="1083" y="1834">35</text><text x="1083" y="1886">36</text><text x="1083" y="1938">37</text><text x="1083" y="1990">38</text><text x="1083" y="2042">39</text><text x="1083" y="2094">40</text><text x="1083" y="2146">41</text><text x="1083" y="2198">42</text><text x="1083" y="2250">43</text><text x="1083" y="2302">44</text><text x="1083" y="2354">45</text><text x="1083" y="2406">46</text><text x="1083" y="2458">47</text><text x="1083" y="2510">48</text><text x="1083" y="2562">49</text><text x="1083" y="2614">50</text><text x="1083" y="2666">51</text><text x="1083" y="2718">52</text><text x="1083" y="2770">53</text><text x="1083" y="2822">54</text><text x="1083" y="2874">55</text><text x="1083" y="2926">56</text><text x="1083" y="2978">57</text><text x="1083" y="3030">58</text><text x="1083" y="3082">59</text><text x="1083" y="3134">60</text><text x="1083" y="3186">61</text><text x="1083" y="3238">62</text><text x="1083" y="3290">63</text><text x="1083" y="3342">64</text><text x="1083" y="3394">65</text><text x="1083" y="3446">66</text><text x="1083" y="3498">67</text><text x="1083" y="3550">68</text><text x="1083" y="3602">69</text><text x="1083" y="3654">70</text><text x="1083" y="3706">71</text>
</g>
<text x="552" y="1913" text-anchor="middle" textLength="153" lengthAdjust="spacingAndGlyphs" font-family="'Liberation Sans',Arial,sans-serif" font-size="15" font-weight="bold" fill="#333">BRACELETBOOK.COM</text>
</g>
</svg>
